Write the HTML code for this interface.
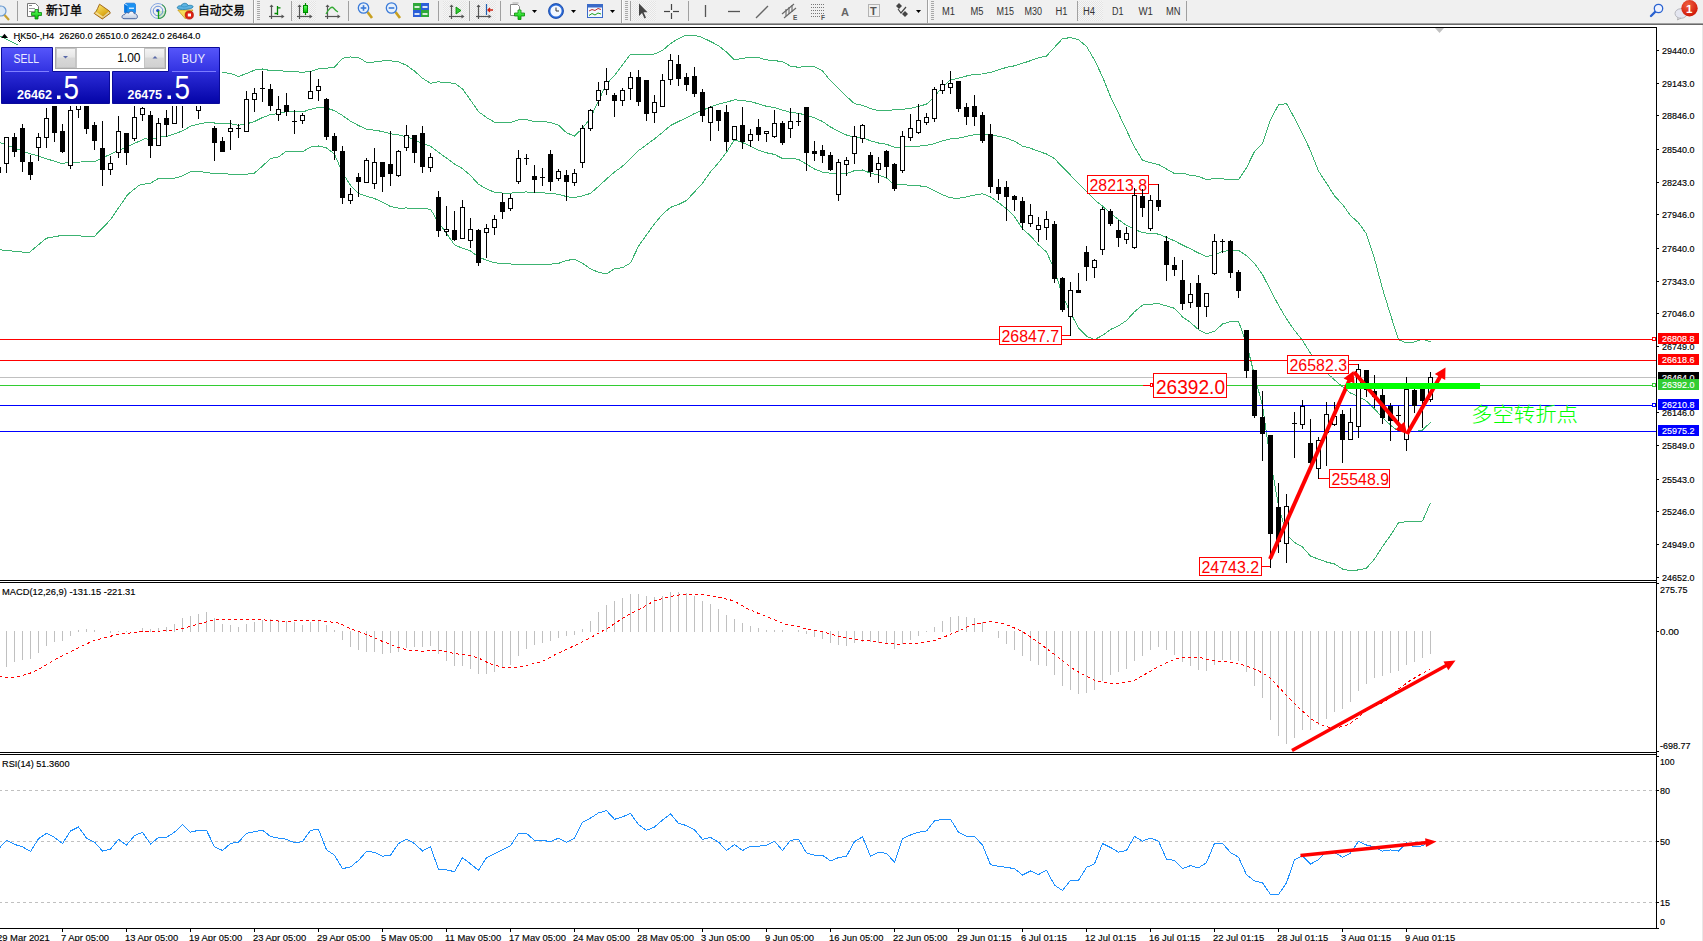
<!DOCTYPE html>
<html><head><meta charset="utf-8"><title>HK50 H4</title>
<style>
html,body{margin:0;padding:0}
body{width:1703px;height:941px;overflow:hidden;position:relative;background:#fff;font-family:"Liberation Sans", Arial, sans-serif}
</style></head><body>
<svg width="1703" height="941" viewBox="0 0 1703 941" style="position:absolute;left:0;top:0">
<g shape-rendering="crispEdges" stroke="#000" stroke-width="1">
<line x1="0" y1="27.5" x2="1657" y2="27.5"/>
<line x1="1656.5" y1="27" x2="1656.5" y2="929"/>
<line x1="0" y1="580.5" x2="1657" y2="580.5"/>
<line x1="0" y1="582.5" x2="1657" y2="582.5"/>
<line x1="0" y1="752.5" x2="1657" y2="752.5"/>
<line x1="0" y1="754.5" x2="1657" y2="754.5"/>
<line x1="0" y1="928.5" x2="1657" y2="928.5"/>
</g>
<polyline points="0.0,36.0 17.0,44.6 28.0,52.0 100.0,60.0 150.5,96.3 158.5,96.0 166.5,94.9 174.5,89.6 182.5,86.0 190.5,80.7 198.5,76.9 206.5,72.3 214.5,72.3 222.5,72.3 230.5,73.5 238.5,76.4 246.5,73.6 254.5,70.1 262.5,69.0 270.5,70.6 278.5,70.1 286.5,71.8 294.5,71.8 302.5,72.2 310.5,71.5 318.5,68.9 326.5,68.2 334.5,67.1 342.5,58.3 350.5,57.0 358.5,57.5 366.5,62.3 374.5,62.0 382.5,60.9 390.5,60.9 398.5,61.7 406.5,65.4 414.5,71.0 422.5,78.3 430.5,83.2 438.5,81.8 446.5,82.9 454.5,83.1 462.5,88.9 470.5,100.1 478.5,111.7 486.5,117.5 494.5,122.1 502.5,122.4 510.5,122.5 518.5,119.9 526.5,119.6 534.5,121.5 542.5,121.6 550.5,122.4 558.5,125.2 566.5,132.7 574.5,136.1 582.5,128.3 590.5,117.9 598.5,100.6 606.5,84.1 614.5,75.4 622.5,64.7 630.5,54.3 638.5,54.9 646.5,54.8 654.5,54.0 662.5,50.5 670.5,43.6 678.5,38.5 686.5,35.1 694.5,35.1 702.5,37.6 710.5,41.5 718.5,45.6 726.5,52.1 734.5,59.9 742.5,58.4 750.5,57.2 758.5,57.6 766.5,59.9 774.5,60.6 782.5,61.7 790.5,66.1 798.5,67.3 806.5,66.2 814.5,66.6 822.5,71.0 830.5,80.8 838.5,88.4 846.5,96.4 854.5,103.7 862.5,105.3 870.5,108.5 878.5,110.8 886.5,110.6 894.5,109.8 902.5,109.3 910.5,108.5 918.5,106.4 926.5,104.2 934.5,96.5 942.5,86.9 950.5,79.9 958.5,78.2 966.5,76.0 974.5,74.1 982.5,74.0 990.5,72.4 998.5,69.9 1006.5,67.4 1014.5,65.8 1022.5,63.3 1030.5,60.7 1038.5,57.8 1046.5,56.0 1054.5,47.3 1062.5,38.7 1070.5,37.6 1078.5,39.8 1086.5,46.4 1094.5,60.0 1102.5,76.8 1110.5,96.7 1118.5,113.3 1126.5,130.3 1134.5,147.0 1142.5,160.3 1150.5,162.6 1158.5,164.5 1166.5,169.0 1174.5,173.6 1182.5,173.1 1190.5,175.4 1198.5,176.3 1206.5,179.8 1214.5,178.3 1222.5,178.9 1230.5,179.5 1238.5,179.7 1246.5,167.8 1254.5,151.4 1262.5,143.4 1270.5,119.6 1278.5,104.9 1286.5,103.5 1294.5,118.2 1302.5,133.6 1310.5,150.8 1318.5,171.0 1326.5,183.2 1334.5,195.9 1342.5,204.5 1350.5,215.5 1358.5,222.7 1366.5,234.0 1374.5,258.7 1382.5,288.7 1390.5,314.8 1398.5,339.8 1406.5,342.9 1414.5,341.9 1422.5,339.2 1430.5,341.9" fill="none" stroke="#3cb371" stroke-width="1" shape-rendering="crispEdges"/>
<polyline points="0.0,142.5 26.0,152.3 61.0,163.3 95.7,161.0 116.0,151.7 145.0,138.7 150.5,139.7 158.5,137.2 166.5,136.6 174.5,133.9 182.5,130.9 190.5,126.2 198.5,124.1 206.5,122.5 214.5,123.0 222.5,123.0 230.5,123.8 238.5,125.3 246.5,123.9 254.5,121.5 262.5,117.5 270.5,114.6 278.5,113.5 286.5,111.5 294.5,111.7 302.5,112.0 310.5,109.3 318.5,107.5 326.5,108.0 334.5,110.7 342.5,115.5 350.5,121.2 358.5,125.5 366.5,129.2 374.5,130.2 382.5,131.5 390.5,133.8 398.5,134.9 406.5,136.7 414.5,139.7 422.5,143.6 430.5,146.2 438.5,152.2 446.5,158.1 454.5,164.0 462.5,168.6 470.5,175.5 478.5,184.3 486.5,188.9 494.5,192.3 502.5,193.1 510.5,193.2 518.5,192.1 526.5,192.0 534.5,192.8 542.5,192.9 550.5,193.3 558.5,194.3 566.5,196.6 574.5,197.7 582.5,195.8 590.5,193.4 598.5,186.4 606.5,179.0 614.5,172.1 622.5,166.2 630.5,158.6 638.5,150.6 646.5,144.8 654.5,138.9 662.5,132.4 670.5,125.5 678.5,121.5 686.5,117.8 694.5,113.5 702.5,110.4 710.5,106.7 718.5,104.2 726.5,102.2 734.5,99.8 742.5,100.5 750.5,101.7 758.5,103.8 766.5,106.3 774.5,107.5 782.5,110.1 790.5,112.3 798.5,113.3 806.5,115.2 814.5,117.8 822.5,121.5 830.5,127.0 838.5,131.2 846.5,135.0 854.5,137.2 862.5,137.7 870.5,140.8 878.5,143.0 886.5,144.2 894.5,147.3 902.5,147.1 910.5,146.8 918.5,146.1 926.5,145.4 934.5,143.7 942.5,140.8 950.5,138.9 958.5,138.2 966.5,136.4 974.5,134.6 982.5,133.8 990.5,134.7 998.5,136.2 1006.5,138.1 1014.5,141.2 1022.5,146.1 1030.5,148.2 1038.5,151.3 1046.5,154.0 1054.5,158.5 1062.5,167.2 1070.5,175.2 1078.5,183.8 1086.5,191.3 1094.5,199.8 1102.5,206.1 1110.5,213.1 1118.5,219.6 1126.5,225.4 1134.5,229.3 1142.5,232.7 1150.5,233.4 1158.5,234.1 1166.5,237.4 1174.5,240.9 1182.5,245.0 1190.5,248.9 1198.5,253.0 1206.5,256.7 1214.5,254.8 1222.5,251.4 1230.5,250.6 1238.5,250.4 1246.5,255.7 1254.5,263.4 1262.5,274.6 1270.5,290.1 1278.5,305.3 1286.5,318.9 1294.5,330.4 1302.5,340.3 1310.5,353.4 1318.5,365.1 1326.5,372.6 1334.5,379.9 1342.5,386.8 1350.5,393.1 1358.5,396.3 1366.5,401.1 1374.5,408.9 1382.5,417.6 1390.5,425.1 1398.5,431.3 1406.5,432.2 1414.5,431.8 1422.5,430.1 1430.5,422.3" fill="none" stroke="#3cb371" stroke-width="1" shape-rendering="crispEdges"/>
<polyline points="0.0,249.8 29.0,252.7 46.4,238.2 62.4,235.3 94.3,236.5 110.2,220.0 127.6,194.7 139.3,185.1 150.5,183.1 158.5,178.5 166.5,178.3 174.5,178.3 182.5,175.8 190.5,171.7 198.5,171.3 206.5,172.6 214.5,173.6 222.5,173.6 230.5,174.2 238.5,174.3 246.5,174.2 254.5,173.0 262.5,166.0 270.5,158.6 278.5,156.9 286.5,151.1 294.5,151.5 302.5,151.8 310.5,147.1 318.5,146.0 326.5,147.9 334.5,154.2 342.5,172.7 350.5,185.4 358.5,193.5 366.5,196.2 374.5,198.5 382.5,202.1 390.5,206.6 398.5,208.1 406.5,208.0 414.5,208.3 422.5,208.8 430.5,209.1 438.5,222.6 446.5,233.3 454.5,244.9 462.5,248.3 470.5,250.9 478.5,256.9 486.5,260.3 494.5,262.6 502.5,263.7 510.5,264.0 518.5,264.3 526.5,264.4 534.5,264.2 542.5,264.2 550.5,264.2 558.5,263.4 566.5,260.5 574.5,259.2 582.5,263.2 590.5,268.9 598.5,272.2 606.5,273.9 614.5,268.7 622.5,267.7 630.5,262.9 638.5,246.2 646.5,234.8 654.5,223.9 662.5,214.3 670.5,207.4 678.5,204.5 686.5,200.5 694.5,191.9 702.5,183.2 710.5,171.9 718.5,162.7 726.5,152.2 734.5,139.7 742.5,142.5 750.5,146.1 758.5,150.1 766.5,152.8 774.5,154.4 782.5,158.5 790.5,158.5 798.5,159.3 806.5,164.3 814.5,169.0 822.5,172.1 830.5,173.2 838.5,174.0 846.5,173.6 854.5,170.6 862.5,170.0 870.5,173.2 878.5,175.2 886.5,177.9 894.5,184.9 902.5,184.9 910.5,185.1 918.5,185.8 926.5,186.6 934.5,190.9 942.5,194.7 950.5,197.9 958.5,198.3 966.5,196.9 974.5,195.1 982.5,193.7 990.5,197.0 998.5,202.6 1006.5,208.7 1014.5,216.6 1022.5,228.8 1030.5,235.8 1038.5,244.9 1046.5,252.0 1054.5,269.7 1062.5,295.6 1070.5,312.9 1078.5,327.9 1086.5,336.2 1094.5,339.7 1102.5,335.4 1110.5,329.5 1118.5,325.8 1126.5,320.5 1134.5,311.7 1142.5,305.1 1150.5,304.2 1158.5,303.6 1166.5,305.9 1174.5,308.3 1182.5,316.9 1190.5,322.5 1198.5,329.7 1206.5,333.6 1214.5,331.4 1222.5,324.0 1230.5,321.6 1238.5,321.2 1246.5,343.5 1254.5,375.4 1262.5,405.8 1270.5,460.6 1278.5,505.7 1286.5,534.4 1294.5,542.5 1302.5,547.0 1310.5,556.0 1318.5,559.2 1326.5,562.0 1334.5,564.0 1342.5,569.0 1350.5,570.8 1358.5,569.9 1366.5,568.2 1374.5,559.0 1382.5,546.6 1390.5,535.3 1398.5,522.8 1406.5,521.6 1414.5,521.6 1422.5,521.0 1430.5,502.7" fill="none" stroke="#3cb371" stroke-width="1" shape-rendering="crispEdges"/>
<g shape-rendering="crispEdges" stroke-width="1">
<line x1="0" y1="339.5" x2="1652" y2="339.5" stroke="#ff0000"/>
<line x1="0" y1="360.5" x2="1656" y2="360.5" stroke="#ff0000"/>
<line x1="0" y1="377.5" x2="1656" y2="377.5" stroke="#c0c0c0"/>
<line x1="0" y1="385.5" x2="1652" y2="385.5" stroke="#32cd32"/>
<line x1="0" y1="405.5" x2="1652" y2="405.5" stroke="#0000ff"/>
<line x1="0" y1="431.5" x2="1656" y2="431.5" stroke="#0000ff"/>
<rect x="1652.5" y="337.5" width="3" height="3" fill="#fff" stroke="#ff0000"/>
<rect x="1652.5" y="383.5" width="3" height="3" fill="#fff" stroke="#32cd32"/>
<rect x="1652.5" y="403.5" width="3" height="3" fill="#fff" stroke="#0000ff"/>
</g>
<rect x="999.5" y="326.5" width="62" height="18" fill="#fff" stroke="#ff0000" shape-rendering="crispEdges"/><text x="1001.5" y="341.5" font-family='"Liberation Sans", Arial, sans-serif' font-size="16" fill="#ff0000" textLength="57.5" lengthAdjust="spacingAndGlyphs">26847.7</text>
<line x1="1061" y1="335.5" x2="1070" y2="335.5" stroke="#ff0000" shape-rendering="crispEdges"/>
<rect x="1087.5" y="175.5" width="61" height="18" fill="#fff" stroke="#ff0000" shape-rendering="crispEdges"/><text x="1089.5" y="190.5" font-family='"Liberation Sans", Arial, sans-serif' font-size="16" fill="#ff0000" textLength="57.5" lengthAdjust="spacingAndGlyphs">28213.8</text>
<line x1="1148" y1="184.5" x2="1158" y2="184.5" stroke="#ff0000" shape-rendering="crispEdges"/>
<rect x="1199.5" y="557.5" width="62" height="18" fill="#fff" stroke="#ff0000" shape-rendering="crispEdges"/><text x="1201.5" y="572.5" font-family='"Liberation Sans", Arial, sans-serif' font-size="16" fill="#ff0000" textLength="57.5" lengthAdjust="spacingAndGlyphs">24743.2</text>
<line x1="1261" y1="566.5" x2="1270" y2="566.5" stroke="#ff0000" shape-rendering="crispEdges"/>
<rect x="1287.5" y="355.5" width="61" height="18" fill="#fff" stroke="#ff0000" shape-rendering="crispEdges"/><text x="1289.5" y="370.5" font-family='"Liberation Sans", Arial, sans-serif' font-size="16" fill="#ff0000" textLength="57.5" lengthAdjust="spacingAndGlyphs">26582.3</text>
<line x1="1348" y1="364.5" x2="1358" y2="364.5" stroke="#ff0000" shape-rendering="crispEdges"/>
<rect x="1329.5" y="469.5" width="60" height="18" fill="#fff" stroke="#ff0000" shape-rendering="crispEdges"/><text x="1331.5" y="484.5" font-family='"Liberation Sans", Arial, sans-serif' font-size="16" fill="#ff0000" textLength="57.5" lengthAdjust="spacingAndGlyphs">25548.9</text>
<line x1="1318" y1="478.5" x2="1329" y2="478.5" stroke="#ff0000" shape-rendering="crispEdges"/>
<line x1="1143" y1="385.5" x2="1150" y2="385.5" stroke="#ff0000" shape-rendering="crispEdges"/>
<rect x="1150.5" y="383.5" width="2" height="3" fill="#fff" stroke="#ff0000" shape-rendering="crispEdges"/>
<rect x="1153.5" y="373.5" width="73" height="24" fill="#fff" stroke="#ff0000" shape-rendering="crispEdges"/>
<text x="1156" y="394" font-family='"Liberation Sans", Arial, sans-serif' font-size="20" fill="#ff0000" textLength="69" lengthAdjust="spacingAndGlyphs">26392.0</text>
<g shape-rendering="crispEdges">
<line x1="-1.5" y1="160" x2="-1.5" y2="177" stroke="#000"/>
<rect x="-4" y="167" width="5" height="6" fill="#000"/>
<line x1="6.5" y1="137" x2="6.5" y2="173" stroke="#000"/>
<rect x="4.5" y="137.5" width="4" height="26" fill="#fff" stroke="#000"/>
<line x1="14.5" y1="133" x2="14.5" y2="157" stroke="#000"/>
<rect x="12" y="137" width="5" height="15" fill="#000"/>
<line x1="22.5" y1="124" x2="22.5" y2="172" stroke="#000"/>
<rect x="20" y="128" width="5" height="34" fill="#000"/>
<line x1="30.5" y1="155" x2="30.5" y2="180" stroke="#000"/>
<rect x="28" y="162" width="5" height="13" fill="#000"/>
<line x1="38.5" y1="133" x2="38.5" y2="161" stroke="#000"/>
<rect x="36.5" y="137.5" width="4" height="10" fill="#fff" stroke="#000"/>
<line x1="46.5" y1="108" x2="46.5" y2="148" stroke="#000"/>
<rect x="44.5" y="118.5" width="4" height="19" fill="#fff" stroke="#000"/>
<line x1="54.5" y1="90" x2="54.5" y2="142" stroke="#000"/>
<rect x="52" y="95" width="5" height="38" fill="#000"/>
<line x1="62.5" y1="124" x2="62.5" y2="153" stroke="#000"/>
<rect x="60" y="131" width="5" height="21" fill="#000"/>
<line x1="70.5" y1="100" x2="70.5" y2="169" stroke="#000"/>
<rect x="68.5" y="110.5" width="4" height="55" fill="#fff" stroke="#000"/>
<line x1="78.5" y1="95" x2="78.5" y2="118" stroke="#000"/>
<rect x="76.5" y="98.5" width="4" height="11" fill="#fff" stroke="#000"/>
<line x1="86.5" y1="90" x2="86.5" y2="134" stroke="#000"/>
<rect x="84" y="95" width="5" height="34" fill="#000"/>
<line x1="94.5" y1="122" x2="94.5" y2="150" stroke="#000"/>
<rect x="92" y="125" width="5" height="16" fill="#000"/>
<line x1="102.5" y1="121" x2="102.5" y2="186" stroke="#000"/>
<rect x="100" y="148" width="5" height="22" fill="#000"/>
<line x1="110.5" y1="156" x2="110.5" y2="175" stroke="#000"/>
<rect x="108.5" y="163.5" width="4" height="6" fill="#fff" stroke="#000"/>
<line x1="118.5" y1="116" x2="118.5" y2="158" stroke="#000"/>
<rect x="116.5" y="131.5" width="4" height="21" fill="#fff" stroke="#000"/>
<line x1="126.5" y1="133" x2="126.5" y2="165" stroke="#000"/>
<rect x="124" y="133" width="5" height="20" fill="#000"/>
<line x1="134.5" y1="100" x2="134.5" y2="141" stroke="#000"/>
<rect x="132.5" y="117.5" width="4" height="21" fill="#fff" stroke="#000"/>
<line x1="142.5" y1="107" x2="142.5" y2="121" stroke="#000"/>
<rect x="140.5" y="108.5" width="4" height="6" fill="#fff" stroke="#000"/>
<line x1="150.5" y1="111" x2="150.5" y2="158" stroke="#000"/>
<rect x="148" y="115" width="5" height="31" fill="#000"/>
<line x1="158.5" y1="118" x2="158.5" y2="146" stroke="#000"/>
<rect x="156.5" y="123.5" width="4" height="22" fill="#fff" stroke="#000"/>
<line x1="166.5" y1="110" x2="166.5" y2="137" stroke="#000"/>
<rect x="164" y="118" width="5" height="7" fill="#000"/>
<line x1="174.5" y1="95" x2="174.5" y2="124" stroke="#000"/>
<rect x="172.5" y="98.5" width="4" height="25" fill="#fff" stroke="#000"/>
<line x1="182.5" y1="75" x2="182.5" y2="128" stroke="#000"/>
<rect x="180" y="80" width="5" height="21" fill="#000"/>
<line x1="190.5" y1="75" x2="190.5" y2="101" stroke="#000"/>
<rect x="188.5" y="80.5" width="4" height="15" fill="#fff" stroke="#000"/>
<line x1="198.5" y1="90" x2="198.5" y2="119" stroke="#000"/>
<rect x="196.5" y="95.5" width="4" height="15" fill="#fff" stroke="#000"/>
<line x1="206.5" y1="80" x2="206.5" y2="105" stroke="#000"/>
<rect x="204.5" y="85.5" width="4" height="15" fill="#fff" stroke="#000"/>
<line x1="214.5" y1="126" x2="214.5" y2="161" stroke="#000"/>
<rect x="212" y="128" width="5" height="15" fill="#000"/>
<line x1="222.5" y1="137" x2="222.5" y2="152" stroke="#000"/>
<rect x="220" y="141" width="5" height="11" fill="#000"/>
<line x1="230.5" y1="120" x2="230.5" y2="150" stroke="#000"/>
<rect x="228.5" y="128.5" width="4" height="3" fill="#fff" stroke="#000"/>
<line x1="238.5" y1="124" x2="238.5" y2="138" stroke="#000"/>
<line x1="236" y1="128.5" x2="241" y2="128.5" stroke="#000"/>
<line x1="246.5" y1="91" x2="246.5" y2="132" stroke="#000"/>
<rect x="244.5" y="99.5" width="4" height="32" fill="#fff" stroke="#000"/>
<line x1="254.5" y1="88" x2="254.5" y2="112" stroke="#000"/>
<rect x="252.5" y="93.5" width="4" height="6" fill="#fff" stroke="#000"/>
<line x1="262.5" y1="71" x2="262.5" y2="102" stroke="#000"/>
<line x1="260" y1="88.5" x2="265" y2="88.5" stroke="#000"/>
<line x1="270.5" y1="84" x2="270.5" y2="111" stroke="#000"/>
<rect x="268" y="89" width="5" height="17" fill="#000"/>
<line x1="278.5" y1="96" x2="278.5" y2="121" stroke="#000"/>
<rect x="276.5" y="109.5" width="4" height="5" fill="#fff" stroke="#000"/>
<line x1="286.5" y1="93" x2="286.5" y2="116" stroke="#000"/>
<rect x="284" y="105" width="5" height="7" fill="#000"/>
<line x1="294.5" y1="110" x2="294.5" y2="134" stroke="#000"/>
<line x1="292" y1="121.5" x2="297" y2="121.5" stroke="#000"/>
<line x1="302.5" y1="113" x2="302.5" y2="124" stroke="#000"/>
<rect x="300.5" y="115.5" width="4" height="5" fill="#fff" stroke="#000"/>
<line x1="310.5" y1="71" x2="310.5" y2="99" stroke="#000"/>
<rect x="308.5" y="91.5" width="4" height="7" fill="#fff" stroke="#000"/>
<line x1="318.5" y1="79" x2="318.5" y2="101" stroke="#000"/>
<rect x="316.5" y="86.5" width="4" height="4" fill="#fff" stroke="#000"/>
<line x1="326.5" y1="98" x2="326.5" y2="140" stroke="#000"/>
<rect x="324" y="99" width="5" height="38" fill="#000"/>
<line x1="334.5" y1="133" x2="334.5" y2="160" stroke="#000"/>
<rect x="332" y="136" width="5" height="15" fill="#000"/>
<line x1="342.5" y1="146" x2="342.5" y2="204" stroke="#000"/>
<rect x="340" y="151" width="5" height="47" fill="#000"/>
<line x1="350.5" y1="188" x2="350.5" y2="204" stroke="#000"/>
<rect x="348.5" y="194.5" width="4" height="6" fill="#fff" stroke="#000"/>
<line x1="358.5" y1="173" x2="358.5" y2="197" stroke="#000"/>
<rect x="356" y="177" width="5" height="5" fill="#000"/>
<line x1="366.5" y1="158" x2="366.5" y2="183" stroke="#000"/>
<rect x="364.5" y="160.5" width="4" height="22" fill="#fff" stroke="#000"/>
<line x1="374.5" y1="148" x2="374.5" y2="189" stroke="#000"/>
<rect x="372.5" y="162.5" width="4" height="21" fill="#fff" stroke="#000"/>
<line x1="382.5" y1="162" x2="382.5" y2="192" stroke="#000"/>
<rect x="380" y="162" width="5" height="15" fill="#000"/>
<line x1="390.5" y1="131" x2="390.5" y2="186" stroke="#000"/>
<rect x="388" y="164" width="5" height="10" fill="#000"/>
<line x1="398.5" y1="150" x2="398.5" y2="177" stroke="#000"/>
<rect x="396.5" y="151.5" width="4" height="24" fill="#fff" stroke="#000"/>
<line x1="406.5" y1="125" x2="406.5" y2="151" stroke="#000"/>
<rect x="404.5" y="135.5" width="4" height="12" fill="#fff" stroke="#000"/>
<line x1="414.5" y1="135" x2="414.5" y2="163" stroke="#000"/>
<rect x="412" y="135" width="5" height="18" fill="#000"/>
<line x1="422.5" y1="126" x2="422.5" y2="173" stroke="#000"/>
<rect x="420" y="133" width="5" height="34" fill="#000"/>
<line x1="430.5" y1="153" x2="430.5" y2="172" stroke="#000"/>
<rect x="428.5" y="157.5" width="4" height="10" fill="#fff" stroke="#000"/>
<line x1="438.5" y1="191" x2="438.5" y2="237" stroke="#000"/>
<rect x="436" y="197" width="5" height="34" fill="#000"/>
<line x1="446.5" y1="206" x2="446.5" y2="236" stroke="#000"/>
<rect x="444.5" y="229.5" width="4" height="2" fill="#fff" stroke="#000"/>
<line x1="454.5" y1="211" x2="454.5" y2="241" stroke="#000"/>
<rect x="452" y="230" width="5" height="10" fill="#000"/>
<line x1="462.5" y1="200" x2="462.5" y2="239" stroke="#000"/>
<rect x="460.5" y="207.5" width="4" height="31" fill="#fff" stroke="#000"/>
<line x1="470.5" y1="218" x2="470.5" y2="248" stroke="#000"/>
<rect x="468.5" y="229.5" width="4" height="11" fill="#fff" stroke="#000"/>
<line x1="478.5" y1="229" x2="478.5" y2="266" stroke="#000"/>
<rect x="476" y="230" width="5" height="33" fill="#000"/>
<line x1="486.5" y1="224" x2="486.5" y2="258" stroke="#000"/>
<rect x="484.5" y="228.5" width="4" height="4" fill="#fff" stroke="#000"/>
<line x1="494.5" y1="215" x2="494.5" y2="235" stroke="#000"/>
<rect x="492.5" y="219.5" width="4" height="8" fill="#fff" stroke="#000"/>
<line x1="502.5" y1="193" x2="502.5" y2="219" stroke="#000"/>
<rect x="500" y="202" width="5" height="10" fill="#000"/>
<line x1="510.5" y1="194" x2="510.5" y2="211" stroke="#000"/>
<rect x="508.5" y="198.5" width="4" height="10" fill="#fff" stroke="#000"/>
<line x1="518.5" y1="150" x2="518.5" y2="184" stroke="#000"/>
<rect x="516.5" y="158.5" width="4" height="23" fill="#fff" stroke="#000"/>
<line x1="526.5" y1="154" x2="526.5" y2="165" stroke="#000"/>
<line x1="524" y1="158.5" x2="529" y2="158.5" stroke="#000"/>
<line x1="534.5" y1="165" x2="534.5" y2="193" stroke="#000"/>
<rect x="532" y="176" width="5" height="4" fill="#000"/>
<line x1="542.5" y1="168" x2="542.5" y2="186" stroke="#000"/>
<line x1="540" y1="177.5" x2="545" y2="177.5" stroke="#000"/>
<line x1="550.5" y1="150" x2="550.5" y2="191" stroke="#000"/>
<rect x="548" y="154" width="5" height="28" fill="#000"/>
<line x1="558.5" y1="169" x2="558.5" y2="181" stroke="#000"/>
<rect x="556.5" y="171.5" width="4" height="7" fill="#fff" stroke="#000"/>
<line x1="566.5" y1="170" x2="566.5" y2="201" stroke="#000"/>
<rect x="564" y="175" width="5" height="7" fill="#000"/>
<line x1="574.5" y1="169" x2="574.5" y2="186" stroke="#000"/>
<rect x="572.5" y="173.5" width="4" height="9" fill="#fff" stroke="#000"/>
<line x1="582.5" y1="125" x2="582.5" y2="168" stroke="#000"/>
<rect x="580.5" y="128.5" width="4" height="34" fill="#fff" stroke="#000"/>
<line x1="590.5" y1="109" x2="590.5" y2="131" stroke="#000"/>
<rect x="588.5" y="110.5" width="4" height="18" fill="#fff" stroke="#000"/>
<line x1="598.5" y1="82" x2="598.5" y2="106" stroke="#000"/>
<rect x="596.5" y="90.5" width="4" height="10" fill="#fff" stroke="#000"/>
<line x1="606.5" y1="68" x2="606.5" y2="95" stroke="#000"/>
<rect x="604.5" y="81.5" width="4" height="8" fill="#fff" stroke="#000"/>
<line x1="614.5" y1="93" x2="614.5" y2="117" stroke="#000"/>
<rect x="612" y="95" width="5" height="6" fill="#000"/>
<line x1="622.5" y1="88" x2="622.5" y2="106" stroke="#000"/>
<rect x="620.5" y="90.5" width="4" height="10" fill="#fff" stroke="#000"/>
<line x1="630.5" y1="72" x2="630.5" y2="100" stroke="#000"/>
<rect x="628.5" y="77.5" width="4" height="11" fill="#fff" stroke="#000"/>
<line x1="638.5" y1="70" x2="638.5" y2="106" stroke="#000"/>
<rect x="636" y="77" width="5" height="25" fill="#000"/>
<line x1="646.5" y1="80" x2="646.5" y2="121" stroke="#000"/>
<rect x="644" y="80" width="5" height="34" fill="#000"/>
<line x1="654.5" y1="95" x2="654.5" y2="123" stroke="#000"/>
<rect x="652.5" y="102.5" width="4" height="10" fill="#fff" stroke="#000"/>
<line x1="662.5" y1="74" x2="662.5" y2="107" stroke="#000"/>
<rect x="660.5" y="80.5" width="4" height="26" fill="#fff" stroke="#000"/>
<line x1="670.5" y1="54" x2="670.5" y2="85" stroke="#000"/>
<rect x="668.5" y="60.5" width="4" height="19" fill="#fff" stroke="#000"/>
<line x1="678.5" y1="55" x2="678.5" y2="86" stroke="#000"/>
<rect x="676" y="64" width="5" height="15" fill="#000"/>
<line x1="686.5" y1="73" x2="686.5" y2="91" stroke="#000"/>
<rect x="684" y="77" width="5" height="8" fill="#000"/>
<line x1="694.5" y1="67" x2="694.5" y2="97" stroke="#000"/>
<rect x="692" y="76" width="5" height="18" fill="#000"/>
<line x1="702.5" y1="89" x2="702.5" y2="122" stroke="#000"/>
<rect x="700" y="92" width="5" height="24" fill="#000"/>
<line x1="710.5" y1="106" x2="710.5" y2="141" stroke="#000"/>
<rect x="708.5" y="107.5" width="4" height="15" fill="#fff" stroke="#000"/>
<line x1="718.5" y1="110" x2="718.5" y2="131" stroke="#000"/>
<rect x="716" y="110" width="5" height="11" fill="#000"/>
<line x1="726.5" y1="105" x2="726.5" y2="151" stroke="#000"/>
<rect x="724" y="112" width="5" height="30" fill="#000"/>
<line x1="734.5" y1="126" x2="734.5" y2="140" stroke="#000"/>
<rect x="732.5" y="126.5" width="4" height="13" fill="#fff" stroke="#000"/>
<line x1="742.5" y1="107" x2="742.5" y2="149" stroke="#000"/>
<rect x="740" y="125" width="5" height="17" fill="#000"/>
<line x1="750.5" y1="129" x2="750.5" y2="147" stroke="#000"/>
<rect x="748.5" y="134.5" width="4" height="6" fill="#fff" stroke="#000"/>
<line x1="758.5" y1="119" x2="758.5" y2="141" stroke="#000"/>
<rect x="756" y="127" width="5" height="8" fill="#000"/>
<line x1="766.5" y1="131" x2="766.5" y2="142" stroke="#000"/>
<rect x="764.5" y="131.5" width="4" height="2" fill="#fff" stroke="#000"/>
<line x1="774.5" y1="110" x2="774.5" y2="138" stroke="#000"/>
<rect x="772.5" y="123.5" width="4" height="13" fill="#fff" stroke="#000"/>
<line x1="782.5" y1="121" x2="782.5" y2="145" stroke="#000"/>
<rect x="780" y="123" width="5" height="20" fill="#000"/>
<line x1="790.5" y1="108" x2="790.5" y2="138" stroke="#000"/>
<rect x="788.5" y="121.5" width="4" height="7" fill="#fff" stroke="#000"/>
<line x1="798.5" y1="113" x2="798.5" y2="126" stroke="#000"/>
<line x1="796" y1="121.5" x2="801" y2="121.5" stroke="#000"/>
<line x1="806.5" y1="107" x2="806.5" y2="171" stroke="#000"/>
<rect x="804" y="107" width="5" height="46" fill="#000"/>
<line x1="814.5" y1="141" x2="814.5" y2="161" stroke="#000"/>
<rect x="812" y="151" width="5" height="3" fill="#000"/>
<line x1="822.5" y1="145" x2="822.5" y2="163" stroke="#000"/>
<rect x="820" y="150" width="5" height="6" fill="#000"/>
<line x1="830.5" y1="152" x2="830.5" y2="171" stroke="#000"/>
<rect x="828" y="155" width="5" height="15" fill="#000"/>
<line x1="838.5" y1="159" x2="838.5" y2="201" stroke="#000"/>
<rect x="836.5" y="162.5" width="4" height="32" fill="#fff" stroke="#000"/>
<line x1="846.5" y1="157" x2="846.5" y2="176" stroke="#000"/>
<rect x="844.5" y="160.5" width="4" height="4" fill="#fff" stroke="#000"/>
<line x1="854.5" y1="126" x2="854.5" y2="164" stroke="#000"/>
<rect x="852.5" y="136.5" width="4" height="17" fill="#fff" stroke="#000"/>
<line x1="862.5" y1="124" x2="862.5" y2="143" stroke="#000"/>
<rect x="860.5" y="125.5" width="4" height="13" fill="#fff" stroke="#000"/>
<line x1="870.5" y1="152" x2="870.5" y2="177" stroke="#000"/>
<rect x="868" y="155" width="5" height="17" fill="#000"/>
<line x1="878.5" y1="157" x2="878.5" y2="183" stroke="#000"/>
<rect x="876.5" y="163.5" width="4" height="6" fill="#fff" stroke="#000"/>
<line x1="886.5" y1="150" x2="886.5" y2="178" stroke="#000"/>
<rect x="884" y="151" width="5" height="16" fill="#000"/>
<line x1="894.5" y1="163" x2="894.5" y2="191" stroke="#000"/>
<rect x="892" y="164" width="5" height="25" fill="#000"/>
<line x1="902.5" y1="131" x2="902.5" y2="173" stroke="#000"/>
<rect x="900.5" y="136.5" width="4" height="34" fill="#fff" stroke="#000"/>
<line x1="910.5" y1="114" x2="910.5" y2="141" stroke="#000"/>
<rect x="908.5" y="128.5" width="4" height="9" fill="#fff" stroke="#000"/>
<line x1="918.5" y1="104" x2="918.5" y2="134" stroke="#000"/>
<rect x="916.5" y="120.5" width="4" height="12" fill="#fff" stroke="#000"/>
<line x1="926.5" y1="113" x2="926.5" y2="125" stroke="#000"/>
<rect x="924.5" y="117.5" width="4" height="5" fill="#fff" stroke="#000"/>
<line x1="934.5" y1="87" x2="934.5" y2="122" stroke="#000"/>
<rect x="932.5" y="89.5" width="4" height="29" fill="#fff" stroke="#000"/>
<line x1="942.5" y1="80" x2="942.5" y2="94" stroke="#000"/>
<rect x="940.5" y="84.5" width="4" height="6" fill="#fff" stroke="#000"/>
<line x1="950.5" y1="71" x2="950.5" y2="94" stroke="#000"/>
<rect x="948.5" y="83.5" width="4" height="4" fill="#fff" stroke="#000"/>
<line x1="958.5" y1="81" x2="958.5" y2="112" stroke="#000"/>
<rect x="956" y="81" width="5" height="28" fill="#000"/>
<line x1="966.5" y1="103" x2="966.5" y2="125" stroke="#000"/>
<rect x="964" y="107" width="5" height="10" fill="#000"/>
<line x1="974.5" y1="95" x2="974.5" y2="126" stroke="#000"/>
<rect x="972" y="106" width="5" height="11" fill="#000"/>
<line x1="982.5" y1="112" x2="982.5" y2="143" stroke="#000"/>
<rect x="980" y="115" width="5" height="26" fill="#000"/>
<line x1="990.5" y1="124" x2="990.5" y2="193" stroke="#000"/>
<rect x="988" y="134" width="5" height="53" fill="#000"/>
<line x1="998.5" y1="179" x2="998.5" y2="200" stroke="#000"/>
<rect x="996" y="187" width="5" height="7" fill="#000"/>
<line x1="1006.5" y1="181" x2="1006.5" y2="221" stroke="#000"/>
<rect x="1004" y="187" width="5" height="10" fill="#000"/>
<line x1="1014.5" y1="195" x2="1014.5" y2="211" stroke="#000"/>
<rect x="1012" y="196" width="5" height="4" fill="#000"/>
<line x1="1022.5" y1="197" x2="1022.5" y2="230" stroke="#000"/>
<rect x="1020" y="201" width="5" height="22" fill="#000"/>
<line x1="1030.5" y1="204" x2="1030.5" y2="227" stroke="#000"/>
<rect x="1028.5" y="215.5" width="4" height="8" fill="#fff" stroke="#000"/>
<line x1="1038.5" y1="217" x2="1038.5" y2="242" stroke="#000"/>
<rect x="1036.5" y="225.5" width="4" height="4" fill="#fff" stroke="#000"/>
<line x1="1046.5" y1="211" x2="1046.5" y2="240" stroke="#000"/>
<rect x="1044.5" y="219.5" width="4" height="8" fill="#fff" stroke="#000"/>
<line x1="1054.5" y1="221" x2="1054.5" y2="283" stroke="#000"/>
<rect x="1052" y="224" width="5" height="55" fill="#000"/>
<line x1="1062.5" y1="277" x2="1062.5" y2="312" stroke="#000"/>
<rect x="1060" y="278" width="5" height="32" fill="#000"/>
<line x1="1070.5" y1="282" x2="1070.5" y2="336" stroke="#000"/>
<rect x="1068.5" y="290.5" width="4" height="26" fill="#fff" stroke="#000"/>
<line x1="1078.5" y1="273" x2="1078.5" y2="293" stroke="#000"/>
<rect x="1076" y="290" width="5" height="3" fill="#000"/>
<line x1="1086.5" y1="246" x2="1086.5" y2="281" stroke="#000"/>
<rect x="1084" y="252" width="5" height="15" fill="#000"/>
<line x1="1094.5" y1="259" x2="1094.5" y2="278" stroke="#000"/>
<rect x="1092.5" y="260.5" width="4" height="7" fill="#fff" stroke="#000"/>
<line x1="1102.5" y1="207" x2="1102.5" y2="255" stroke="#000"/>
<rect x="1100.5" y="209.5" width="4" height="40" fill="#fff" stroke="#000"/>
<line x1="1110.5" y1="209" x2="1110.5" y2="226" stroke="#000"/>
<rect x="1108" y="211" width="5" height="13" fill="#000"/>
<line x1="1118.5" y1="220" x2="1118.5" y2="247" stroke="#000"/>
<rect x="1116" y="230" width="5" height="8" fill="#000"/>
<line x1="1126.5" y1="227" x2="1126.5" y2="244" stroke="#000"/>
<rect x="1124.5" y="233.5" width="4" height="6" fill="#fff" stroke="#000"/>
<line x1="1134.5" y1="188" x2="1134.5" y2="249" stroke="#000"/>
<rect x="1132.5" y="195.5" width="4" height="52" fill="#fff" stroke="#000"/>
<line x1="1142.5" y1="189" x2="1142.5" y2="217" stroke="#000"/>
<rect x="1140" y="196" width="5" height="12" fill="#000"/>
<line x1="1150.5" y1="195" x2="1150.5" y2="231" stroke="#000"/>
<rect x="1148.5" y="200.5" width="4" height="28" fill="#fff" stroke="#000"/>
<line x1="1158.5" y1="184" x2="1158.5" y2="211" stroke="#000"/>
<rect x="1156" y="200" width="5" height="7" fill="#000"/>
<line x1="1166.5" y1="236" x2="1166.5" y2="281" stroke="#000"/>
<rect x="1164" y="241" width="5" height="24" fill="#000"/>
<line x1="1174.5" y1="257" x2="1174.5" y2="276" stroke="#000"/>
<rect x="1172" y="265" width="5" height="5" fill="#000"/>
<line x1="1182.5" y1="260" x2="1182.5" y2="310" stroke="#000"/>
<rect x="1180" y="280" width="5" height="24" fill="#000"/>
<line x1="1190.5" y1="283" x2="1190.5" y2="308" stroke="#000"/>
<rect x="1188.5" y="294.5" width="4" height="8" fill="#fff" stroke="#000"/>
<line x1="1198.5" y1="275" x2="1198.5" y2="329" stroke="#000"/>
<rect x="1196" y="283" width="5" height="24" fill="#000"/>
<line x1="1206.5" y1="293" x2="1206.5" y2="317" stroke="#000"/>
<rect x="1204.5" y="293.5" width="4" height="13" fill="#fff" stroke="#000"/>
<line x1="1214.5" y1="234" x2="1214.5" y2="275" stroke="#000"/>
<rect x="1212.5" y="241.5" width="4" height="32" fill="#fff" stroke="#000"/>
<line x1="1222.5" y1="239" x2="1222.5" y2="253" stroke="#000"/>
<line x1="1220" y1="241.5" x2="1225" y2="241.5" stroke="#000"/>
<line x1="1230.5" y1="240" x2="1230.5" y2="278" stroke="#000"/>
<rect x="1228" y="241" width="5" height="32" fill="#000"/>
<line x1="1238.5" y1="270" x2="1238.5" y2="298" stroke="#000"/>
<rect x="1236" y="272" width="5" height="19" fill="#000"/>
<line x1="1246.5" y1="330" x2="1246.5" y2="378" stroke="#000"/>
<rect x="1244" y="330" width="5" height="41" fill="#000"/>
<line x1="1254.5" y1="370" x2="1254.5" y2="418" stroke="#000"/>
<rect x="1252" y="370" width="5" height="46" fill="#000"/>
<line x1="1262.5" y1="391" x2="1262.5" y2="461" stroke="#000"/>
<rect x="1260" y="417" width="5" height="17" fill="#000"/>
<line x1="1270.5" y1="435" x2="1270.5" y2="568" stroke="#000"/>
<rect x="1268" y="435" width="5" height="99" fill="#000"/>
<line x1="1278.5" y1="483" x2="1278.5" y2="553" stroke="#000"/>
<rect x="1276" y="507" width="5" height="35" fill="#000"/>
<line x1="1286.5" y1="494" x2="1286.5" y2="563" stroke="#000"/>
<rect x="1284.5" y="506.5" width="4" height="37" fill="#fff" stroke="#000"/>
<line x1="1294.5" y1="412" x2="1294.5" y2="458" stroke="#000"/>
<line x1="1292" y1="423.5" x2="1297" y2="423.5" stroke="#000"/>
<line x1="1302.5" y1="400" x2="1302.5" y2="429" stroke="#000"/>
<rect x="1300.5" y="406.5" width="4" height="18" fill="#fff" stroke="#000"/>
<line x1="1310.5" y1="419" x2="1310.5" y2="466" stroke="#000"/>
<rect x="1308" y="443" width="5" height="20" fill="#000"/>
<line x1="1318.5" y1="437" x2="1318.5" y2="479" stroke="#000"/>
<rect x="1316.5" y="440.5" width="4" height="28" fill="#fff" stroke="#000"/>
<line x1="1326.5" y1="402" x2="1326.5" y2="466" stroke="#000"/>
<rect x="1324.5" y="414.5" width="4" height="18" fill="#fff" stroke="#000"/>
<line x1="1334.5" y1="402" x2="1334.5" y2="426" stroke="#000"/>
<rect x="1332.5" y="416.5" width="4" height="8" fill="#fff" stroke="#000"/>
<line x1="1342.5" y1="410" x2="1342.5" y2="463" stroke="#000"/>
<rect x="1340" y="414" width="5" height="26" fill="#000"/>
<line x1="1350.5" y1="408" x2="1350.5" y2="440" stroke="#000"/>
<rect x="1348.5" y="422.5" width="4" height="17" fill="#fff" stroke="#000"/>
<line x1="1358.5" y1="364" x2="1358.5" y2="438" stroke="#000"/>
<rect x="1356.5" y="369.5" width="4" height="57" fill="#fff" stroke="#000"/>
<line x1="1366.5" y1="370" x2="1366.5" y2="397" stroke="#000"/>
<rect x="1364" y="370" width="5" height="20" fill="#000"/>
<line x1="1374.5" y1="375" x2="1374.5" y2="408" stroke="#000"/>
<rect x="1372" y="391" width="5" height="6" fill="#000"/>
<line x1="1382.5" y1="389" x2="1382.5" y2="424" stroke="#000"/>
<rect x="1380" y="395" width="5" height="23" fill="#000"/>
<line x1="1390.5" y1="403" x2="1390.5" y2="441" stroke="#000"/>
<rect x="1388" y="406" width="5" height="15" fill="#000"/>
<line x1="1398.5" y1="406" x2="1398.5" y2="431" stroke="#000"/>
<line x1="1396" y1="415.5" x2="1401" y2="415.5" stroke="#000"/>
<line x1="1406.5" y1="377" x2="1406.5" y2="451" stroke="#000"/>
<rect x="1404.5" y="389.5" width="4" height="50" fill="#fff" stroke="#000"/>
<line x1="1414.5" y1="389" x2="1414.5" y2="413" stroke="#000"/>
<rect x="1412" y="390" width="5" height="16" fill="#000"/>
<line x1="1422.5" y1="389" x2="1422.5" y2="428" stroke="#000"/>
<rect x="1420" y="389" width="5" height="12" fill="#000"/>
<line x1="1430.5" y1="372" x2="1430.5" y2="402" stroke="#000"/>
<rect x="1428.5" y="377.5" width="4" height="22" fill="#fff" stroke="#000"/>
</g>
<g shape-rendering="crispEdges" stroke="#c0c0c0">
<line x1="6.5" y1="631" x2="6.5" y2="667"/>
<line x1="14.5" y1="631" x2="14.5" y2="662"/>
<line x1="22.5" y1="631" x2="22.5" y2="660"/>
<line x1="30.5" y1="631" x2="30.5" y2="659"/>
<line x1="38.5" y1="631" x2="38.5" y2="653"/>
<line x1="46.5" y1="631" x2="46.5" y2="646"/>
<line x1="54.5" y1="631" x2="54.5" y2="642"/>
<line x1="62.5" y1="631" x2="62.5" y2="641"/>
<line x1="70.5" y1="631" x2="70.5" y2="636"/>
<line x1="78.5" y1="630" x2="78.5" y2="632"/>
<line x1="86.5" y1="629" x2="86.5" y2="632"/>
<line x1="94.5" y1="630" x2="94.5" y2="632"/>
<line x1="102.5" y1="631" x2="102.5" y2="631"/>
<line x1="110.5" y1="631" x2="110.5" y2="633"/>
<line x1="118.5" y1="631" x2="118.5" y2="632"/>
<line x1="126.5" y1="631" x2="126.5" y2="632"/>
<line x1="134.5" y1="631" x2="134.5" y2="631"/>
<line x1="142.5" y1="628" x2="142.5" y2="632"/>
<line x1="150.5" y1="629" x2="150.5" y2="632"/>
<line x1="158.5" y1="628" x2="158.5" y2="632"/>
<line x1="166.5" y1="627" x2="166.5" y2="632"/>
<line x1="174.5" y1="624" x2="174.5" y2="632"/>
<line x1="182.5" y1="618" x2="182.5" y2="632"/>
<line x1="190.5" y1="616" x2="190.5" y2="632"/>
<line x1="198.5" y1="614" x2="198.5" y2="632"/>
<line x1="206.5" y1="612" x2="206.5" y2="632"/>
<line x1="214.5" y1="618" x2="214.5" y2="632"/>
<line x1="222.5" y1="624" x2="222.5" y2="632"/>
<line x1="230.5" y1="625" x2="230.5" y2="632"/>
<line x1="238.5" y1="627" x2="238.5" y2="632"/>
<line x1="246.5" y1="624" x2="246.5" y2="632"/>
<line x1="254.5" y1="622" x2="254.5" y2="632"/>
<line x1="262.5" y1="620" x2="262.5" y2="632"/>
<line x1="270.5" y1="619" x2="270.5" y2="632"/>
<line x1="278.5" y1="620" x2="278.5" y2="632"/>
<line x1="286.5" y1="621" x2="286.5" y2="632"/>
<line x1="294.5" y1="622" x2="294.5" y2="632"/>
<line x1="302.5" y1="625" x2="302.5" y2="632"/>
<line x1="310.5" y1="622" x2="310.5" y2="632"/>
<line x1="318.5" y1="620" x2="318.5" y2="632"/>
<line x1="326.5" y1="625" x2="326.5" y2="632"/>
<line x1="334.5" y1="630" x2="334.5" y2="632"/>
<line x1="342.5" y1="631" x2="342.5" y2="640"/>
<line x1="350.5" y1="631" x2="350.5" y2="647"/>
<line x1="358.5" y1="631" x2="358.5" y2="650"/>
<line x1="366.5" y1="631" x2="366.5" y2="652"/>
<line x1="374.5" y1="631" x2="374.5" y2="652"/>
<line x1="382.5" y1="631" x2="382.5" y2="654"/>
<line x1="390.5" y1="631" x2="390.5" y2="653"/>
<line x1="398.5" y1="631" x2="398.5" y2="652"/>
<line x1="406.5" y1="631" x2="406.5" y2="648"/>
<line x1="414.5" y1="631" x2="414.5" y2="647"/>
<line x1="422.5" y1="631" x2="422.5" y2="647"/>
<line x1="430.5" y1="631" x2="430.5" y2="646"/>
<line x1="438.5" y1="631" x2="438.5" y2="654"/>
<line x1="446.5" y1="631" x2="446.5" y2="661"/>
<line x1="454.5" y1="631" x2="454.5" y2="666"/>
<line x1="462.5" y1="631" x2="462.5" y2="666"/>
<line x1="470.5" y1="631" x2="470.5" y2="669"/>
<line x1="478.5" y1="631" x2="478.5" y2="674"/>
<line x1="486.5" y1="631" x2="486.5" y2="674"/>
<line x1="494.5" y1="631" x2="494.5" y2="672"/>
<line x1="502.5" y1="631" x2="502.5" y2="668"/>
<line x1="510.5" y1="631" x2="510.5" y2="665"/>
<line x1="518.5" y1="631" x2="518.5" y2="656"/>
<line x1="526.5" y1="631" x2="526.5" y2="649"/>
<line x1="534.5" y1="631" x2="534.5" y2="645"/>
<line x1="542.5" y1="631" x2="542.5" y2="643"/>
<line x1="550.5" y1="631" x2="550.5" y2="641"/>
<line x1="558.5" y1="631" x2="558.5" y2="638"/>
<line x1="566.5" y1="631" x2="566.5" y2="636"/>
<line x1="574.5" y1="631" x2="574.5" y2="635"/>
<line x1="582.5" y1="629" x2="582.5" y2="632"/>
<line x1="590.5" y1="621" x2="590.5" y2="632"/>
<line x1="598.5" y1="612" x2="598.5" y2="632"/>
<line x1="606.5" y1="605" x2="606.5" y2="632"/>
<line x1="614.5" y1="601" x2="614.5" y2="632"/>
<line x1="622.5" y1="598" x2="622.5" y2="632"/>
<line x1="630.5" y1="594" x2="630.5" y2="632"/>
<line x1="638.5" y1="594" x2="638.5" y2="632"/>
<line x1="646.5" y1="596" x2="646.5" y2="632"/>
<line x1="654.5" y1="597" x2="654.5" y2="632"/>
<line x1="662.5" y1="596" x2="662.5" y2="632"/>
<line x1="670.5" y1="592" x2="670.5" y2="632"/>
<line x1="678.5" y1="592" x2="678.5" y2="632"/>
<line x1="686.5" y1="593" x2="686.5" y2="632"/>
<line x1="694.5" y1="596" x2="694.5" y2="632"/>
<line x1="702.5" y1="601" x2="702.5" y2="632"/>
<line x1="710.5" y1="604" x2="710.5" y2="632"/>
<line x1="718.5" y1="609" x2="718.5" y2="632"/>
<line x1="726.5" y1="615" x2="726.5" y2="632"/>
<line x1="734.5" y1="619" x2="734.5" y2="632"/>
<line x1="742.5" y1="623" x2="742.5" y2="632"/>
<line x1="750.5" y1="626" x2="750.5" y2="632"/>
<line x1="758.5" y1="628" x2="758.5" y2="632"/>
<line x1="766.5" y1="630" x2="766.5" y2="632"/>
<line x1="774.5" y1="630" x2="774.5" y2="632"/>
<line x1="782.5" y1="630" x2="782.5" y2="632"/>
<line x1="790.5" y1="631" x2="790.5" y2="631"/>
<line x1="798.5" y1="630" x2="798.5" y2="632"/>
<line x1="806.5" y1="631" x2="806.5" y2="634"/>
<line x1="814.5" y1="631" x2="814.5" y2="637"/>
<line x1="822.5" y1="631" x2="822.5" y2="639"/>
<line x1="830.5" y1="631" x2="830.5" y2="643"/>
<line x1="838.5" y1="631" x2="838.5" y2="645"/>
<line x1="846.5" y1="631" x2="846.5" y2="646"/>
<line x1="854.5" y1="631" x2="854.5" y2="643"/>
<line x1="862.5" y1="631" x2="862.5" y2="642"/>
<line x1="870.5" y1="631" x2="870.5" y2="642"/>
<line x1="878.5" y1="631" x2="878.5" y2="643"/>
<line x1="886.5" y1="631" x2="886.5" y2="644"/>
<line x1="894.5" y1="631" x2="894.5" y2="649"/>
<line x1="902.5" y1="631" x2="902.5" y2="644"/>
<line x1="910.5" y1="631" x2="910.5" y2="640"/>
<line x1="918.5" y1="631" x2="918.5" y2="636"/>
<line x1="926.5" y1="631" x2="926.5" y2="632"/>
<line x1="934.5" y1="627" x2="934.5" y2="632"/>
<line x1="942.5" y1="621" x2="942.5" y2="632"/>
<line x1="950.5" y1="617" x2="950.5" y2="632"/>
<line x1="958.5" y1="616" x2="958.5" y2="632"/>
<line x1="966.5" y1="617" x2="966.5" y2="632"/>
<line x1="974.5" y1="618" x2="974.5" y2="632"/>
<line x1="982.5" y1="622" x2="982.5" y2="632"/>
<line x1="990.5" y1="631" x2="990.5" y2="631"/>
<line x1="998.5" y1="631" x2="998.5" y2="638"/>
<line x1="1006.5" y1="631" x2="1006.5" y2="644"/>
<line x1="1014.5" y1="631" x2="1014.5" y2="650"/>
<line x1="1022.5" y1="631" x2="1022.5" y2="656"/>
<line x1="1030.5" y1="631" x2="1030.5" y2="661"/>
<line x1="1038.5" y1="631" x2="1038.5" y2="665"/>
<line x1="1046.5" y1="631" x2="1046.5" y2="666"/>
<line x1="1054.5" y1="631" x2="1054.5" y2="675"/>
<line x1="1062.5" y1="631" x2="1062.5" y2="686"/>
<line x1="1070.5" y1="631" x2="1070.5" y2="690"/>
<line x1="1078.5" y1="631" x2="1078.5" y2="694"/>
<line x1="1086.5" y1="631" x2="1086.5" y2="693"/>
<line x1="1094.5" y1="631" x2="1094.5" y2="690"/>
<line x1="1102.5" y1="631" x2="1102.5" y2="681"/>
<line x1="1110.5" y1="631" x2="1110.5" y2="675"/>
<line x1="1118.5" y1="631" x2="1118.5" y2="672"/>
<line x1="1126.5" y1="631" x2="1126.5" y2="669"/>
<line x1="1134.5" y1="631" x2="1134.5" y2="661"/>
<line x1="1142.5" y1="631" x2="1142.5" y2="656"/>
<line x1="1150.5" y1="631" x2="1150.5" y2="650"/>
<line x1="1158.5" y1="631" x2="1158.5" y2="647"/>
<line x1="1166.5" y1="631" x2="1166.5" y2="650"/>
<line x1="1174.5" y1="631" x2="1174.5" y2="655"/>
<line x1="1182.5" y1="631" x2="1182.5" y2="662"/>
<line x1="1190.5" y1="631" x2="1190.5" y2="666"/>
<line x1="1198.5" y1="631" x2="1198.5" y2="670"/>
<line x1="1206.5" y1="631" x2="1206.5" y2="671"/>
<line x1="1214.5" y1="631" x2="1214.5" y2="665"/>
<line x1="1222.5" y1="631" x2="1222.5" y2="660"/>
<line x1="1230.5" y1="631" x2="1230.5" y2="660"/>
<line x1="1238.5" y1="631" x2="1238.5" y2="661"/>
<line x1="1246.5" y1="631" x2="1246.5" y2="672"/>
<line x1="1254.5" y1="631" x2="1254.5" y2="686"/>
<line x1="1262.5" y1="631" x2="1262.5" y2="698"/>
<line x1="1270.5" y1="631" x2="1270.5" y2="720"/>
<line x1="1278.5" y1="631" x2="1278.5" y2="736"/>
<line x1="1286.5" y1="631" x2="1286.5" y2="744"/>
<line x1="1294.5" y1="631" x2="1294.5" y2="738"/>
<line x1="1302.5" y1="631" x2="1302.5" y2="730"/>
<line x1="1310.5" y1="631" x2="1310.5" y2="730"/>
<line x1="1318.5" y1="631" x2="1318.5" y2="725"/>
<line x1="1326.5" y1="631" x2="1326.5" y2="719"/>
<line x1="1334.5" y1="631" x2="1334.5" y2="712"/>
<line x1="1342.5" y1="631" x2="1342.5" y2="709"/>
<line x1="1350.5" y1="631" x2="1350.5" y2="702"/>
<line x1="1358.5" y1="631" x2="1358.5" y2="691"/>
<line x1="1366.5" y1="631" x2="1366.5" y2="684"/>
<line x1="1374.5" y1="631" x2="1374.5" y2="678"/>
<line x1="1382.5" y1="631" x2="1382.5" y2="676"/>
<line x1="1390.5" y1="631" x2="1390.5" y2="673"/>
<line x1="1398.5" y1="631" x2="1398.5" y2="671"/>
<line x1="1406.5" y1="631" x2="1406.5" y2="665"/>
<line x1="1414.5" y1="631" x2="1414.5" y2="662"/>
<line x1="1422.5" y1="631" x2="1422.5" y2="658"/>
<line x1="1430.5" y1="631" x2="1430.5" y2="654"/>
</g>
<polyline points="0.0,676.5 6.0,677.5 12.0,677.5 17.5,676.5 23.0,675.4 29.5,673.5 36.0,670.6 42.0,667.5 47.0,664.6 58.7,657.5 70.5,651.6 82.2,645.8 94.0,640.6 105.7,637.5 117.4,634.5 140.9,631.7 173.8,630.5 187.9,627.0 202.0,623.0 216.1,619.5 258.4,619.5 281.9,621.3 319.4,620.4 338.2,623.0 352.3,629.3 366.4,634.5 380.5,640.6 400.0,648.1 411.7,650.5 423.5,651.2 430.5,650.0 439.9,650.5 454.0,653.5 470.5,655.6 479.9,658.7 489.3,663.4 503.3,667.6 517.4,667.6 531.5,664.1 540.9,662.2 555.0,654.7 569.1,648.1 583.2,641.5 599.6,632.8 611.4,625.8 625.5,616.4 639.6,609.4 653.7,601.1 670.1,596.4 681.9,594.6 703.0,594.6 714.7,596.4 733.5,600.7 747.6,608.7 761.7,614.8 775.8,620.4 785.2,624.2 800.0,627.0 809.4,629.8 823.5,632.1 837.6,635.9 854.0,639.2 870.5,641.1 882.2,642.9 898.6,644.1 917.4,643.4 933.9,640.6 945.6,636.4 959.7,630.5 971.5,625.1 987.9,621.6 999.6,622.7 1011.4,626.5 1023.1,632.1 1034.9,639.9 1046.6,648.6 1058.4,657.5 1070.1,666.9 1081.9,674.0 1093.6,679.8 1105.3,682.9 1117.1,683.8 1133.5,681.0 1147.6,672.8 1161.7,665.0 1175.8,658.7 1187.5,657.0 1200.0,657.5 1211.5,660.4 1230.6,662.3 1245.9,665.7 1257.4,670.3 1268.9,676.6 1280.4,689.0 1291.8,700.9 1303.3,712.0 1314.8,721.6 1326.3,726.9 1337.7,727.7 1349.2,724.4 1360.7,715.5 1368.4,708.2 1383.7,702.4 1399.0,688.7 1410.4,680.4 1425.7,671.4 1430.5,669.5" fill="none" stroke="#ff0000" stroke-width="1" stroke-dasharray="3,3" stroke-dashoffset="1" shape-rendering="crispEdges"/>
<g shape-rendering="crispEdges" stroke="#c0c0c0" stroke-dasharray="3,3">
<line x1="-1" y1="790.5" x2="1656" y2="790.5"/>
<line x1="-1" y1="841.5" x2="1656" y2="841.5"/>
<line x1="-1" y1="902.5" x2="1656" y2="902.5"/>
</g>
<polyline points="-1.5,849.0 6.5,840.4 14.5,844.4 22.5,846.8 30.5,851.5 38.5,838.8 46.5,833.4 54.5,837.4 62.5,843.5 70.5,831.0 78.5,827.0 86.5,838.1 94.5,842.1 102.5,851.0 110.5,849.1 118.5,839.3 126.5,845.1 134.5,835.7 142.5,832.2 150.5,844.0 158.5,837.4 166.5,837.4 174.5,832.2 182.5,824.7 190.5,832.2 198.5,830.3 206.5,830.3 214.5,846.8 222.5,850.5 230.5,843.5 238.5,842.1 246.5,833.4 254.5,831.7 262.5,830.3 270.5,836.4 278.5,838.1 286.5,839.3 294.5,842.8 302.5,841.6 310.5,830.3 318.5,829.4 326.5,849.8 334.5,855.2 342.5,868.6 350.5,867.0 358.5,860.4 366.5,851.5 374.5,852.2 382.5,856.2 390.5,855.2 398.5,843.5 406.5,839.3 414.5,843.5 422.5,851.0 430.5,846.8 438.5,869.3 446.5,869.8 454.5,871.7 462.5,857.6 470.5,863.9 478.5,870.3 486.5,857.6 494.5,853.8 502.5,849.8 510.5,845.8 518.5,833.4 526.5,833.4 534.5,840.4 542.5,840.4 550.5,841.6 558.5,838.1 566.5,842.1 574.5,838.1 582.5,822.3 590.5,818.1 598.5,812.9 606.5,810.6 614.5,819.3 622.5,816.9 630.5,813.4 638.5,824.7 646.5,830.3 654.5,827.0 662.5,820.0 670.5,813.9 678.5,823.3 686.5,825.6 694.5,829.9 702.5,839.3 710.5,837.4 718.5,842.1 726.5,850.5 734.5,844.4 742.5,850.5 750.5,846.3 758.5,846.3 766.5,845.1 774.5,841.1 782.5,850.5 790.5,840.4 798.5,839.3 806.5,852.9 814.5,855.2 822.5,855.2 830.5,860.9 838.5,857.6 846.5,856.2 854.5,841.6 862.5,836.9 870.5,856.2 878.5,852.2 886.5,853.3 894.5,862.3 902.5,838.8 910.5,835.0 918.5,832.2 926.5,831.0 934.5,820.9 942.5,819.3 950.5,819.3 958.5,832.2 966.5,836.4 974.5,836.4 982.5,845.1 990.5,864.6 998.5,866.3 1006.5,867.4 1014.5,868.6 1022.5,875.0 1030.5,871.0 1038.5,874.5 1046.5,870.3 1054.5,885.1 1062.5,890.5 1070.5,880.4 1078.5,880.4 1086.5,867.4 1094.5,863.9 1102.5,843.5 1110.5,847.5 1118.5,852.2 1126.5,850.5 1134.5,836.4 1142.5,841.1 1150.5,838.1 1158.5,841.1 1166.5,859.2 1174.5,860.4 1182.5,868.6 1190.5,865.6 1198.5,867.9 1206.5,862.6 1214.5,843.4 1222.5,843.4 1230.5,852.5 1238.5,857.2 1246.5,874.8 1254.5,880.9 1262.5,882.9 1270.5,894.5 1278.5,894.5 1286.5,882.9 1294.5,859.6 1302.5,856.0 1310.5,864.1 1318.5,859.6 1326.5,851.5 1334.5,852.5 1342.5,857.2 1350.5,853.1 1358.5,841.3 1366.5,845.0 1374.5,847.0 1382.5,851.1 1390.5,849.9 1398.5,851.1 1406.5,843.0 1414.5,847.0 1422.5,845.8 1430.5,840.5" fill="none" stroke="#1e90ff" stroke-width="1" shape-rendering="crispEdges"/>
<line x1="1270" y1="559" x2="1349.8" y2="379.2" stroke="#ff0000" stroke-width="4"/><polygon points="1353.5,371 1354.5,383.5 1343.6,378.6" fill="#ff0000"/>
<line x1="1354" y1="372" x2="1401.2" y2="427.2" stroke="#ff0000" stroke-width="4"/><polygon points="1407,434 1395.3,429.5 1404.4,421.7" fill="#ff0000"/>
<line x1="1407" y1="434" x2="1441.0" y2="375.3" stroke="#ff0000" stroke-width="4"/><polygon points="1445.5,367.5 1445.2,380.0 1434.8,374.0" fill="#ff0000"/>
<line x1="1292" y1="750.5" x2="1447.6" y2="664.8" stroke="#ff0000" stroke-width="3.5"/><polygon points="1455.5,660.5 1448.3,670.2 1443.5,661.4" fill="#ff0000"/>
<line x1="1300.5" y1="855.5" x2="1427.5" y2="842.4" stroke="#ff0000" stroke-width="3.5"/><polygon points="1436.5,841.5 1426.0,847.1 1425.1,838.2" fill="#ff0000"/>
<rect x="1346" y="383" width="134" height="6" fill="#00ff00"/>
<text x="1471" y="422" font-family='"Liberation Sans", "Noto Sans CJK SC", sans-serif' font-weight="300" font-size="20" fill="#00ff00" textLength="107" lengthAdjust="spacingAndGlyphs">多空转折点</text>
<g font-family='"Liberation Sans", Arial, sans-serif' font-size="9.6" fill="#000" stroke="#000" stroke-width="0.15">
<line x1="1657" y1="50.5" x2="1659" y2="50.5" stroke="#000" stroke-width="1" shape-rendering="crispEdges"/>
<text x="1662" y="54" textLength="32.5" lengthAdjust="spacingAndGlyphs">29440.0</text>
<line x1="1657" y1="83.5" x2="1659" y2="83.5" stroke="#000" stroke-width="1" shape-rendering="crispEdges"/>
<text x="1662" y="87" textLength="32.5" lengthAdjust="spacingAndGlyphs">29143.0</text>
<line x1="1657" y1="115.5" x2="1659" y2="115.5" stroke="#000" stroke-width="1" shape-rendering="crispEdges"/>
<text x="1662" y="119" textLength="32.5" lengthAdjust="spacingAndGlyphs">28846.0</text>
<line x1="1657" y1="149.5" x2="1659" y2="149.5" stroke="#000" stroke-width="1" shape-rendering="crispEdges"/>
<text x="1662" y="153" textLength="32.5" lengthAdjust="spacingAndGlyphs">28540.0</text>
<line x1="1657" y1="182.5" x2="1659" y2="182.5" stroke="#000" stroke-width="1" shape-rendering="crispEdges"/>
<text x="1662" y="186" textLength="32.5" lengthAdjust="spacingAndGlyphs">28243.0</text>
<line x1="1657" y1="214.5" x2="1659" y2="214.5" stroke="#000" stroke-width="1" shape-rendering="crispEdges"/>
<text x="1662" y="218" textLength="32.5" lengthAdjust="spacingAndGlyphs">27946.0</text>
<line x1="1657" y1="248.5" x2="1659" y2="248.5" stroke="#000" stroke-width="1" shape-rendering="crispEdges"/>
<text x="1662" y="252" textLength="32.5" lengthAdjust="spacingAndGlyphs">27640.0</text>
<line x1="1657" y1="281.5" x2="1659" y2="281.5" stroke="#000" stroke-width="1" shape-rendering="crispEdges"/>
<text x="1662" y="285" textLength="32.5" lengthAdjust="spacingAndGlyphs">27343.0</text>
<line x1="1657" y1="313.5" x2="1659" y2="313.5" stroke="#000" stroke-width="1" shape-rendering="crispEdges"/>
<text x="1662" y="317" textLength="32.5" lengthAdjust="spacingAndGlyphs">27046.0</text>
<line x1="1657" y1="346.5" x2="1659" y2="346.5" stroke="#000" stroke-width="1" shape-rendering="crispEdges"/>
<text x="1662" y="350" textLength="32.5" lengthAdjust="spacingAndGlyphs">26749.0</text>
<line x1="1657" y1="412.5" x2="1659" y2="412.5" stroke="#000" stroke-width="1" shape-rendering="crispEdges"/>
<text x="1662" y="416" textLength="32.5" lengthAdjust="spacingAndGlyphs">26146.0</text>
<line x1="1657" y1="445.5" x2="1659" y2="445.5" stroke="#000" stroke-width="1" shape-rendering="crispEdges"/>
<text x="1662" y="449" textLength="32.5" lengthAdjust="spacingAndGlyphs">25849.0</text>
<line x1="1657" y1="479.5" x2="1659" y2="479.5" stroke="#000" stroke-width="1" shape-rendering="crispEdges"/>
<text x="1662" y="483" textLength="32.5" lengthAdjust="spacingAndGlyphs">25543.0</text>
<line x1="1657" y1="511.5" x2="1659" y2="511.5" stroke="#000" stroke-width="1" shape-rendering="crispEdges"/>
<text x="1662" y="515" textLength="32.5" lengthAdjust="spacingAndGlyphs">25246.0</text>
<line x1="1657" y1="544.5" x2="1659" y2="544.5" stroke="#000" stroke-width="1" shape-rendering="crispEdges"/>
<text x="1662" y="548" textLength="32.5" lengthAdjust="spacingAndGlyphs">24949.0</text>
<line x1="1657" y1="577.5" x2="1659" y2="577.5" stroke="#000" stroke-width="1" shape-rendering="crispEdges"/>
<text x="1662" y="581" textLength="32.5" lengthAdjust="spacingAndGlyphs">24652.0</text>
<rect x="1658" y="372" width="41" height="11" fill="#000" stroke="none"/><text x="1662" y="381" fill="#fff" stroke="#fff" stroke-width="0.15" textLength="32.5" lengthAdjust="spacingAndGlyphs">26464.0</text>
<rect x="1658" y="333" width="41" height="11" fill="#ff0000" stroke="none"/><text x="1662" y="342" fill="#fff" stroke="#fff" stroke-width="0.15" textLength="32.5" lengthAdjust="spacingAndGlyphs">26808.8</text>
<rect x="1658" y="354" width="41" height="11" fill="#ff0000" stroke="none"/><text x="1662" y="363" fill="#fff" stroke="#fff" stroke-width="0.15" textLength="32.5" lengthAdjust="spacingAndGlyphs">26618.6</text>
<rect x="1658" y="379" width="41" height="11" fill="#32cd32" stroke="none"/><text x="1662" y="388" fill="#fff" stroke="#fff" stroke-width="0.15" textLength="32.5" lengthAdjust="spacingAndGlyphs">26392.0</text>
<rect x="1658" y="399" width="41" height="11" fill="#0000ff" stroke="none"/><text x="1662" y="408" fill="#fff" stroke="#fff" stroke-width="0.15" textLength="32.5" lengthAdjust="spacingAndGlyphs">26210.8</text>
<rect x="1658" y="425" width="41" height="11" fill="#0000ff" stroke="none"/><text x="1662" y="434" fill="#fff" stroke="#fff" stroke-width="0.15" textLength="32.5" lengthAdjust="spacingAndGlyphs">25975.2</text>
<line x1="1657" y1="583.5" x2="1659" y2="583.5" stroke="#000" stroke-width="1" shape-rendering="crispEdges"/>
<text x="1660" y="593" textLength="27.5" lengthAdjust="spacingAndGlyphs">275.75</text>
<line x1="1657" y1="631.5" x2="1659" y2="631.5" stroke="#000" stroke-width="1" shape-rendering="crispEdges"/>
<text x="1660" y="635" textLength="19" lengthAdjust="spacingAndGlyphs">0.00</text>
<line x1="1657" y1="751.5" x2="1659" y2="751.5" stroke="#000" stroke-width="1" shape-rendering="crispEdges"/>
<text x="1660" y="749" textLength="30.5" lengthAdjust="spacingAndGlyphs">-698.77</text>
<line x1="1657" y1="756.5" x2="1659" y2="756.5" stroke="#000" stroke-width="1" shape-rendering="crispEdges"/>
<text x="1660" y="765" textLength="14.5" lengthAdjust="spacingAndGlyphs">100</text>
<line x1="1657" y1="790.5" x2="1659" y2="790.5" stroke="#000" stroke-width="1" shape-rendering="crispEdges"/>
<text x="1660" y="794" textLength="10" lengthAdjust="spacingAndGlyphs">80</text>
<line x1="1657" y1="841.5" x2="1659" y2="841.5" stroke="#000" stroke-width="1" shape-rendering="crispEdges"/>
<text x="1660" y="845" textLength="10" lengthAdjust="spacingAndGlyphs">50</text>
<line x1="1657" y1="902.5" x2="1659" y2="902.5" stroke="#000" stroke-width="1" shape-rendering="crispEdges"/>
<text x="1660" y="906" textLength="10" lengthAdjust="spacingAndGlyphs">15</text>
<line x1="1657" y1="928.5" x2="1659" y2="928.5" stroke="#000" stroke-width="1" shape-rendering="crispEdges"/>
<text x="1660" y="925" textLength="5" lengthAdjust="spacingAndGlyphs">0</text>
<text x="-3" y="941" textLength="52.8" lengthAdjust="spacingAndGlyphs">29 Mar 2021</text>
<line x1="62.5" y1="929" x2="62.5" y2="932" stroke="#000" stroke-width="1" shape-rendering="crispEdges"/>
<text x="61" y="941" textLength="48.1" lengthAdjust="spacingAndGlyphs">7 Apr 05:00</text>
<line x1="126.5" y1="929" x2="126.5" y2="932" stroke="#000" stroke-width="1" shape-rendering="crispEdges"/>
<text x="125" y="941" textLength="53.3" lengthAdjust="spacingAndGlyphs">13 Apr 05:00</text>
<line x1="190.5" y1="929" x2="190.5" y2="932" stroke="#000" stroke-width="1" shape-rendering="crispEdges"/>
<text x="189" y="941" textLength="53.3" lengthAdjust="spacingAndGlyphs">19 Apr 05:00</text>
<line x1="254.5" y1="929" x2="254.5" y2="932" stroke="#000" stroke-width="1" shape-rendering="crispEdges"/>
<text x="253" y="941" textLength="53.3" lengthAdjust="spacingAndGlyphs">23 Apr 05:00</text>
<line x1="318.5" y1="929" x2="318.5" y2="932" stroke="#000" stroke-width="1" shape-rendering="crispEdges"/>
<text x="317" y="941" textLength="53.3" lengthAdjust="spacingAndGlyphs">29 Apr 05:00</text>
<line x1="382.5" y1="929" x2="382.5" y2="932" stroke="#000" stroke-width="1" shape-rendering="crispEdges"/>
<text x="381" y="941" textLength="51.7" lengthAdjust="spacingAndGlyphs">5 May 05:00</text>
<line x1="446.5" y1="929" x2="446.5" y2="932" stroke="#000" stroke-width="1" shape-rendering="crispEdges"/>
<text x="445" y="941" textLength="56.3" lengthAdjust="spacingAndGlyphs">11 May 05:00</text>
<line x1="510.5" y1="929" x2="510.5" y2="932" stroke="#000" stroke-width="1" shape-rendering="crispEdges"/>
<text x="509" y="941" textLength="57.0" lengthAdjust="spacingAndGlyphs">17 May 05:00</text>
<line x1="574.5" y1="929" x2="574.5" y2="932" stroke="#000" stroke-width="1" shape-rendering="crispEdges"/>
<text x="573" y="941" textLength="57.0" lengthAdjust="spacingAndGlyphs">24 May 05:00</text>
<line x1="638.5" y1="929" x2="638.5" y2="932" stroke="#000" stroke-width="1" shape-rendering="crispEdges"/>
<text x="637" y="941" textLength="57.0" lengthAdjust="spacingAndGlyphs">28 May 05:00</text>
<line x1="702.5" y1="929" x2="702.5" y2="932" stroke="#000" stroke-width="1" shape-rendering="crispEdges"/>
<text x="701" y="941" textLength="49.1" lengthAdjust="spacingAndGlyphs">3 Jun 05:00</text>
<line x1="766.5" y1="929" x2="766.5" y2="932" stroke="#000" stroke-width="1" shape-rendering="crispEdges"/>
<text x="765" y="941" textLength="49.1" lengthAdjust="spacingAndGlyphs">9 Jun 05:00</text>
<line x1="830.5" y1="929" x2="830.5" y2="932" stroke="#000" stroke-width="1" shape-rendering="crispEdges"/>
<text x="829" y="941" textLength="54.4" lengthAdjust="spacingAndGlyphs">16 Jun 05:00</text>
<line x1="894.5" y1="929" x2="894.5" y2="932" stroke="#000" stroke-width="1" shape-rendering="crispEdges"/>
<text x="893" y="941" textLength="54.4" lengthAdjust="spacingAndGlyphs">22 Jun 05:00</text>
<line x1="958.5" y1="929" x2="958.5" y2="932" stroke="#000" stroke-width="1" shape-rendering="crispEdges"/>
<text x="957" y="941" textLength="54.4" lengthAdjust="spacingAndGlyphs">29 Jun 01:15</text>
<line x1="1022.5" y1="929" x2="1022.5" y2="932" stroke="#000" stroke-width="1" shape-rendering="crispEdges"/>
<text x="1021" y="941" textLength="46.0" lengthAdjust="spacingAndGlyphs">6 Jul 01:15</text>
<line x1="1086.5" y1="929" x2="1086.5" y2="932" stroke="#000" stroke-width="1" shape-rendering="crispEdges"/>
<text x="1085" y="941" textLength="51.2" lengthAdjust="spacingAndGlyphs">12 Jul 01:15</text>
<line x1="1150.5" y1="929" x2="1150.5" y2="932" stroke="#000" stroke-width="1" shape-rendering="crispEdges"/>
<text x="1149" y="941" textLength="51.2" lengthAdjust="spacingAndGlyphs">16 Jul 01:15</text>
<line x1="1214.5" y1="929" x2="1214.5" y2="932" stroke="#000" stroke-width="1" shape-rendering="crispEdges"/>
<text x="1213" y="941" textLength="51.2" lengthAdjust="spacingAndGlyphs">22 Jul 01:15</text>
<line x1="1278.5" y1="929" x2="1278.5" y2="932" stroke="#000" stroke-width="1" shape-rendering="crispEdges"/>
<text x="1277" y="941" textLength="51.2" lengthAdjust="spacingAndGlyphs">28 Jul 01:15</text>
<line x1="1342.5" y1="929" x2="1342.5" y2="932" stroke="#000" stroke-width="1" shape-rendering="crispEdges"/>
<text x="1341" y="941" textLength="50.2" lengthAdjust="spacingAndGlyphs">3 Aug 01:15</text>
<line x1="1406.5" y1="929" x2="1406.5" y2="932" stroke="#000" stroke-width="1" shape-rendering="crispEdges"/>
<text x="1405" y="941" textLength="50.2" lengthAdjust="spacingAndGlyphs">9 Aug 01:15</text>
<text x="13.5" y="39" textLength="187" lengthAdjust="spacingAndGlyphs" xml:space="preserve">HK50-,H4  26260.0 26510.0 26242.0 26464.0</text>
<text x="2" y="595" textLength="133.5" lengthAdjust="spacingAndGlyphs">MACD(12,26,9) -131.15 -221.31</text>
<text x="2" y="767" textLength="67.5" lengthAdjust="spacingAndGlyphs">RSI(14) 51.3600</text>
</g>
<polygon points="1,38 4.5,33.8 8,38" fill="#000"/>
<g fill="#000"><rect x="19" y="39" width="1" height="1"/><rect x="18" y="40" width="1" height="1"/><rect x="20" y="40" width="1" height="1"/><rect x="19" y="41" width="1" height="1"/></g>
<polygon points="1435,28 1444,28 1439.5,33" fill="#c0c0c0"/>
</svg>
<div style="position:absolute;left:0;top:0;width:1703px;height:23px;background:#f0f0f0"></div>
<div style="position:absolute;left:0;top:23px;width:1703px;height:1px;background:#a0a0a0"></div>
<div style="position:absolute;left:0;top:24px;width:1703px;height:1px;background:#696969"></div>
<div style="position:absolute;left:1702px;top:25px;width:1px;height:916px;background:#e8e8e8"></div>
<svg width="1703" height="23" viewBox="0 0 1703 23" style="position:absolute;left:0;top:0"><defs><pattern id="chk" width="2" height="2" patternUnits="userSpaceOnUse"><rect width="2" height="2" fill="#f6f6f6"/><rect width="1" height="1" fill="#e4e4e4"/><rect x="1" y="1" width="1" height="1" fill="#e4e4e4"/></pattern><linearGradient id="gGreen" x1="0" y1="0" x2="0" y2="1"><stop offset="0" stop-color="#6f6"/><stop offset="1" stop-color="#0b0"/></linearGradient><linearGradient id="gGold" x1="0.2" y1="0" x2="0.8" y2="1"><stop offset="0" stop-color="#fbe870"/><stop offset="0.6" stop-color="#e0b020"/><stop offset="1" stop-color="#b87a10"/></linearGradient><linearGradient id="gCloud" x1="0" y1="0" x2="0" y2="1"><stop offset="0" stop-color="#fcfdff"/><stop offset="1" stop-color="#c2cee2"/></linearGradient><radialGradient id="gRed" cx="0.4" cy="0.3" r="0.7"><stop offset="0" stop-color="#f06040"/><stop offset="1" stop-color="#d01808"/></radialGradient></defs><line x1="17.5" y1="1" x2="17.5" y2="21" stroke="#a0a0a0" shape-rendering="crispEdges"/><circle cx="1" cy="11" r="5" fill="#dbe9f7" stroke="#6a9ad0" stroke-width="1.2"/><line x1="4.5" y1="15" x2="9" y2="20" stroke="#c8a030" stroke-width="2.2"/><path d="M27.5 3.5 h8 l3 3 v10 h-11 z" fill="#fff" stroke="#777"/><rect x="29" y="5" width="3" height="1" fill="#888"/><rect x="29" y="8" width="6" height="1" fill="#999"/><rect x="29" y="11" width="6" height="1" fill="#999"/><path d="M35 9.5 h3 v3 h3.5 v3 h-3.5 v3.5 h-3 v-3.5 h-3.5 v-3 h3.5 z" fill="url(#gGreen)" stroke="#0a8a0a" stroke-width="0.8"/><text x="46" y="15" font-family='"Liberation Sans", "Noto Sans CJK SC", sans-serif' font-size="12" fill="#000" stroke="#000" stroke-width="0.3" textLength="36" lengthAdjust="spacingAndGlyphs">新订单</text><path d="M99.5 4.2 L109.3 11 L110.3 13.2 L102.3 19 L94.2 13.4 Q96.8 11.2 97.6 8.4 Z" fill="url(#gGold)" stroke="#9a5c0c" stroke-width="0.9"/><path d="M95 13.3 L102.4 18.3 L103 16.6 L96.3 12.1 Z" fill="#f4dc94"/><path d="M108.8 11.6 L109.7 13 L102.8 17.9 L103.1 16.6 Z" fill="#e6d6a4"/><path d="M124.5 4.5 L126 3.2 H134.5 L135.5 4.5 V12.5 H124.5 Z" fill="#1a92f2" stroke="#1070d8" stroke-width="0.7"/><path d="M124.6 4.6 L127.3 5.3 V12.4 H124.6 Z" fill="#0a78e0"/><line x1="125" y1="4" x2="127.4" y2="5.4" stroke="#e8f4ff" stroke-width="0.8"/><rect x="129" y="7.6" width="5" height="1.3" fill="#e0f0ff"/><path d="M124 18.7 C121.2 18.7 121.3 14.6 124.6 14.6 C125 12.6 127.6 12.2 128.6 13.2 C129.6 10.6 133.6 10.6 134.1 13.6 C137.6 13.2 138.6 18.7 135.6 18.7 Z" fill="url(#gCloud)" stroke="#3a5a98" stroke-width="0.9"/><path d="M158 11 L158 18.5 A7.5 7.5 0 0 0 165.5 11 Z" fill="#cfe8c8"/><circle cx="158" cy="11" r="7.5" fill="none" stroke="#7a9ee0" stroke-width="0.9"/><circle cx="158" cy="11" r="4.8" fill="none" stroke="#5a86d8" stroke-width="0.9"/><path d="M158 18.5 A7.5 7.5 0 0 0 162 4.6" fill="none" stroke="#3a9a4a" stroke-width="1.1"/><circle cx="157.8" cy="10.6" r="1.7" fill="#2050c8"/><line x1="158.5" y1="11" x2="158.5" y2="18.8" stroke="#18a018" stroke-width="1.3"/><path d="M177.8 10 L193 10 L185.5 19 Z" fill="#f6dc58" stroke="#c09010" stroke-width="0.7"/><path d="M177.3 8 C177 5.5 181 5.6 181.2 6 C181.5 2.6 187.5 2.4 188 5.6 C190 5 193.5 5.2 193 7 C192.5 9.6 178 10.5 177.3 8 Z" fill="#5cb2e2" stroke="#1a78a8" stroke-width="0.8"/><path d="M181.3 6.2 C183 7.3 186.5 7.2 188 5.8" fill="none" stroke="#2a88b8" stroke-width="0.6"/><circle cx="189.3" cy="15" r="4.1" fill="#e02010" stroke="#a81006" stroke-width="0.7"/><rect x="187.8" y="13.5" width="3.2" height="3" fill="#fff"/><text x="198" y="15" font-family='"Liberation Sans", "Noto Sans CJK SC", sans-serif' font-size="12" fill="#000" stroke="#000" stroke-width="0.3" textLength="47" lengthAdjust="spacingAndGlyphs">自动交易</text><line x1="253.5" y1="0" x2="253.5" y2="23" stroke="#a0a0a0" shape-rendering="crispEdges"/><line x1="254.5" y1="0" x2="254.5" y2="23" stroke="#fcfcfc" shape-rendering="crispEdges"/><rect x="257" y="1" width="3" height="1" fill="#a8a8a8"/><rect x="257" y="3" width="3" height="1" fill="#a8a8a8"/><rect x="257" y="5" width="3" height="1" fill="#a8a8a8"/><rect x="257" y="7" width="3" height="1" fill="#a8a8a8"/><rect x="257" y="9" width="3" height="1" fill="#a8a8a8"/><rect x="257" y="11" width="3" height="1" fill="#a8a8a8"/><rect x="257" y="13" width="3" height="1" fill="#a8a8a8"/><rect x="257" y="15" width="3" height="1" fill="#a8a8a8"/><rect x="257" y="17" width="3" height="1" fill="#a8a8a8"/><rect x="257" y="19" width="3" height="1" fill="#a8a8a8"/><g stroke="#555" stroke-width="1.2" fill="#555"><line x1="271.5" y1="5" x2="271.5" y2="19"/><line x1="269.0" y1="16.5" x2="282.5" y2="16.5"/></g><path d="M269.5 7 L271.5 4.5 L273.5 7 Z" fill="#555"/><path d="M281.5 14.5 L284.5 16.5 L281.5 18.5 Z" fill="#555"/><path d="M274.5 13.5 h3 M277.5 6 V15 M277.5 7.8 h3" fill="none" stroke="#080" stroke-width="1.3"/><line x1="291.5" y1="1" x2="291.5" y2="21" stroke="#a0a0a0" shape-rendering="crispEdges"/><rect x="292" y="1" width="24" height="20" fill="url(#chk)"/><g stroke="#555" stroke-width="1.2" fill="#555"><line x1="299.5" y1="5" x2="299.5" y2="19"/><line x1="297.0" y1="16.5" x2="310.5" y2="16.5"/></g><path d="M297.5 7 L299.5 4.5 L301.5 7 Z" fill="#555"/><path d="M309.5 14.5 L312.5 16.5 L309.5 18.5 Z" fill="#555"/><line x1="305.5" y1="3" x2="305.5" y2="15" stroke="#080" stroke-width="1.2"/><rect x="303.5" y="5.5" width="4" height="7" fill="url(#gGreen)" stroke="#080"/><g stroke="#555" stroke-width="1.2" fill="#555"><line x1="327.5" y1="5" x2="327.5" y2="19"/><line x1="325.0" y1="16.5" x2="338.5" y2="16.5"/></g><path d="M325.5 7 L327.5 4.5 L329.5 7 Z" fill="#555"/><path d="M337.5 14.5 L340.5 16.5 L337.5 18.5 Z" fill="#555"/><path d="M326 14 Q331 5 333.5 8 T338 12" fill="none" stroke="#3a3" stroke-width="1.3"/><line x1="348.5" y1="1" x2="348.5" y2="21" stroke="#a0a0a0" shape-rendering="crispEdges"/><line x1="367.5" y1="12" x2="372.0" y2="18" stroke="#c8a020" stroke-width="2.6"/><circle cx="363.5" cy="8" r="5.2" fill="#e6f0fb" stroke="#3a7ad8" stroke-width="1.3"/><line x1="360.7" y1="8" x2="366.3" y2="8" stroke="#3a7ad8" stroke-width="1.6"/><line x1="363.5" y1="5.2" x2="363.5" y2="10.8" stroke="#3a7ad8" stroke-width="1.6"/><line x1="395.5" y1="12" x2="400.0" y2="18" stroke="#c8a020" stroke-width="2.6"/><circle cx="391.5" cy="8" r="5.2" fill="#e6f0fb" stroke="#3a7ad8" stroke-width="1.3"/><line x1="388.7" y1="8" x2="394.3" y2="8" stroke="#3a7ad8" stroke-width="1.6"/><rect x="413" y="3" width="8" height="7" fill="#2fa83a"/><rect x="421" y="3" width="8" height="7" fill="#2a5ed8"/><rect x="413" y="10" width="8" height="7" fill="#2a5ed8"/><rect x="421" y="10" width="8" height="7" fill="#2fa83a"/><rect x="414.5" y="6" width="5" height="2" fill="#d8f0d8"/><rect x="422.5" y="6" width="5" height="2" fill="#d8e4f8"/><rect x="414.5" y="13" width="5" height="2" fill="#d8e4f8"/><rect x="422.5" y="13" width="5" height="2" fill="#d8f0d8"/><line x1="438.5" y1="1" x2="438.5" y2="21" stroke="#a0a0a0" shape-rendering="crispEdges"/><rect x="443" y="1" width="24" height="20" fill="url(#chk)"/><g stroke="#555" stroke-width="1.2" fill="#555"><line x1="451.5" y1="5" x2="451.5" y2="19"/><line x1="449.0" y1="16.5" x2="462.5" y2="16.5"/></g><path d="M449.5 7 L451.5 4.5 L453.5 7 Z" fill="#555"/><path d="M461.5 14.5 L464.5 16.5 L461.5 18.5 Z" fill="#555"/><path d="M456 7 L461 10.5 L456 14 Z" fill="#3c3" stroke="#080" stroke-width="0.8"/><line x1="469.5" y1="1" x2="469.5" y2="21" stroke="#a0a0a0" shape-rendering="crispEdges"/><rect x="471" y="1" width="25" height="20" fill="url(#chk)"/><g stroke="#555" stroke-width="1.2" fill="#555"><line x1="478.5" y1="5" x2="478.5" y2="19"/><line x1="476.0" y1="16.5" x2="489.5" y2="16.5"/></g><path d="M476.5 7 L478.5 4.5 L480.5 7 Z" fill="#555"/><path d="M488.5 14.5 L491.5 16.5 L488.5 18.5 Z" fill="#555"/><line x1="486.5" y1="4" x2="486.5" y2="15" stroke="#2060b0" stroke-width="1.2"/><path d="M493 10 h-5 M490 8 L488 10 L490 12" fill="none" stroke="#d02010" stroke-width="1.3"/><line x1="500.5" y1="1" x2="500.5" y2="21" stroke="#a0a0a0" shape-rendering="crispEdges"/><path d="M510.5 4.5 h7 l2 2 v9 h-9 z" fill="#fff" stroke="#888"/><path d="M512.5 3 h6" stroke="#aaa"/><path d="M518 10 h3 v3 h3.5 v3 h-3.5 v3.5 h-3 v-3.5 h-3.5 v-3 h3.5 z" fill="url(#gGreen)" stroke="#0a8a0a" stroke-width="0.8"/><path d="M532 10 h5 l-2.5 3 z" fill="#000"/><circle cx="556" cy="11" r="7.5" fill="#2a6ad8" stroke="#1040a0" stroke-width="0.8"/><circle cx="556" cy="11" r="5.6" fill="#f4f8ff"/><path d="M556 7.5 V11 H559" fill="none" stroke="#333" stroke-width="1"/><path d="M571 10 h5 l-2.5 3 z" fill="#000"/><rect x="587.5" y="4.5" width="15" height="13" fill="#f4f8ff" stroke="#3a6ac8"/><rect x="588" y="5" width="14" height="2.5" fill="#3a6ac8"/><path d="M589 11 l3 -1.5 l3 1 l3 -2 l3 1" fill="none" stroke="#c03030"/><path d="M589 15.5 l3 -2 l3 1.5 l3 -2 l3 1" fill="none" stroke="#20a020"/><path d="M610 10 h5 l-2.5 3 z" fill="#000"/><line x1="621.5" y1="0" x2="621.5" y2="23" stroke="#a0a0a0" shape-rendering="crispEdges"/><line x1="622.5" y1="0" x2="622.5" y2="23" stroke="#fcfcfc" shape-rendering="crispEdges"/><rect x="625" y="1" width="3" height="1" fill="#a8a8a8"/><rect x="625" y="3" width="3" height="1" fill="#a8a8a8"/><rect x="625" y="5" width="3" height="1" fill="#a8a8a8"/><rect x="625" y="7" width="3" height="1" fill="#a8a8a8"/><rect x="625" y="9" width="3" height="1" fill="#a8a8a8"/><rect x="625" y="11" width="3" height="1" fill="#a8a8a8"/><rect x="625" y="13" width="3" height="1" fill="#a8a8a8"/><rect x="625" y="15" width="3" height="1" fill="#a8a8a8"/><rect x="625" y="17" width="3" height="1" fill="#a8a8a8"/><rect x="625" y="19" width="3" height="1" fill="#a8a8a8"/><line x1="630.5" y1="1" x2="630.5" y2="21" stroke="#a0a0a0" shape-rendering="crispEdges"/><rect x="632" y="1" width="24" height="20" fill="url(#chk)"/><path d="M639 3.5 L639 16 L642 13 L644.5 18.5 L646 17.8 L643.6 12.3 L647.5 12.3 Z" fill="#444"/><g stroke="#444" stroke-width="1.2"><line x1="671.5" y1="4" x2="671.5" y2="10"/><line x1="671.5" y1="13" x2="671.5" y2="19"/><line x1="664" y1="11.5" x2="670" y2="11.5"/><line x1="673" y1="11.5" x2="679" y2="11.5"/></g><line x1="688.5" y1="1" x2="688.5" y2="21" stroke="#a0a0a0" shape-rendering="crispEdges"/><line x1="705.5" y1="5" x2="705.5" y2="17" stroke="#555" stroke-width="1.3"/><line x1="728" y1="11.5" x2="740" y2="11.5" stroke="#555" stroke-width="1.3"/><line x1="756" y1="18" x2="768" y2="6" stroke="#666" stroke-width="1.3"/><g stroke="#666" stroke-width="1.1"><line x1="782" y1="14" x2="794" y2="4"/><line x1="784" y1="18" x2="796" y2="8"/><line x1="786" y1="9" x2="786" y2="16"/><line x1="789" y1="7" x2="789" y2="14"/><line x1="792" y1="5" x2="792" y2="12"/></g><text x="793" y="20" font-family='"Liberation Sans", Arial, sans-serif' font-size="6.5" font-weight="bold" fill="#555">E</text><g stroke="#777" stroke-width="1" stroke-dasharray="1,1"><line x1="811" y1="4.5" x2="824" y2="4.5"/><line x1="811" y1="7.5" x2="824" y2="7.5"/><line x1="811" y1="10.5" x2="824" y2="10.5"/><line x1="811" y1="13.5" x2="824" y2="13.5"/><line x1="811" y1="16.5" x2="820" y2="16.5"/></g><text x="821" y="20" font-family='"Liberation Sans", Arial, sans-serif' font-size="6.5" font-weight="bold" fill="#555">F</text><text x="841" y="16" font-family='"Liberation Sans", Arial, sans-serif' font-size="11" font-weight="bold" fill="#666">A</text><rect x="868.5" y="4.5" width="11" height="12" fill="none" stroke="#777" stroke-dasharray="1,1"/><text x="870" y="15" font-family='"Liberation Sans", Arial, sans-serif' font-size="11" font-weight="bold" fill="#555">T</text><path d="M896 6 L899 3 L902 6 L899 9 Z" fill="#444"/><path d="M902 14 L905 11 L908 14 L905 17 Z" fill="#444"/><path d="M898 9 L901 13 L906 7" fill="none" stroke="#444" stroke-width="1.2"/><path d="M916 10 h5 l-2.5 3 z" fill="#000"/><line x1="927.5" y1="0" x2="927.5" y2="23" stroke="#a0a0a0" shape-rendering="crispEdges"/><line x1="928.5" y1="0" x2="928.5" y2="23" stroke="#fcfcfc" shape-rendering="crispEdges"/><rect x="931" y="1" width="3" height="1" fill="#a8a8a8"/><rect x="931" y="3" width="3" height="1" fill="#a8a8a8"/><rect x="931" y="5" width="3" height="1" fill="#a8a8a8"/><rect x="931" y="7" width="3" height="1" fill="#a8a8a8"/><rect x="931" y="9" width="3" height="1" fill="#a8a8a8"/><rect x="931" y="11" width="3" height="1" fill="#a8a8a8"/><rect x="931" y="13" width="3" height="1" fill="#a8a8a8"/><rect x="931" y="15" width="3" height="1" fill="#a8a8a8"/><rect x="931" y="17" width="3" height="1" fill="#a8a8a8"/><rect x="931" y="19" width="3" height="1" fill="#a8a8a8"/><line x1="1077.5" y1="1" x2="1077.5" y2="21" stroke="#a0a0a0" shape-rendering="crispEdges"/><rect x="1078" y="1" width="25" height="20" fill="url(#chk)"/><text x="942" y="15" font-family='"Liberation Sans", Arial, sans-serif' font-size="10" fill="#333" textLength="13" lengthAdjust="spacingAndGlyphs">M1</text><text x="970.5" y="15" font-family='"Liberation Sans", Arial, sans-serif' font-size="10" fill="#333" textLength="13" lengthAdjust="spacingAndGlyphs">M5</text><text x="996.5" y="15" font-family='"Liberation Sans", Arial, sans-serif' font-size="10" fill="#333" textLength="17.5" lengthAdjust="spacingAndGlyphs">M15</text><text x="1024.5" y="15" font-family='"Liberation Sans", Arial, sans-serif' font-size="10" fill="#333" textLength="17.5" lengthAdjust="spacingAndGlyphs">M30</text><text x="1055.5" y="15" font-family='"Liberation Sans", Arial, sans-serif' font-size="10" fill="#333" textLength="12" lengthAdjust="spacingAndGlyphs">H1</text><text x="1083" y="15" font-family='"Liberation Sans", Arial, sans-serif' font-size="10" fill="#333" textLength="12" lengthAdjust="spacingAndGlyphs">H4</text><text x="1112" y="15" font-family='"Liberation Sans", Arial, sans-serif' font-size="10" fill="#333" textLength="11.5" lengthAdjust="spacingAndGlyphs">D1</text><text x="1138.5" y="15" font-family='"Liberation Sans", Arial, sans-serif' font-size="10" fill="#333" textLength="14.5" lengthAdjust="spacingAndGlyphs">W1</text><text x="1166" y="15" font-family='"Liberation Sans", Arial, sans-serif' font-size="10" fill="#333" textLength="14.5" lengthAdjust="spacingAndGlyphs">MN</text><line x1="1186.5" y1="1" x2="1186.5" y2="21" stroke="#a0a0a0" shape-rendering="crispEdges"/><line x1="1651" y1="16" x2="1655.5" y2="11.5" stroke="#2a62d0" stroke-width="2.4" stroke-linecap="round"/><circle cx="1658.5" cy="8.5" r="4.2" fill="#eef2ff" stroke="#2a62d0" stroke-width="1.3"/><ellipse cx="1681" cy="13.5" rx="6" ry="4.8" fill="#e4e6f0" stroke="#a8a8b0" stroke-width="0.8"/><path d="M1678 17.5 L1677.5 20 L1681 18" fill="#d8d8e0" stroke="#999" stroke-width="0.6"/><circle cx="1689.5" cy="8.3" r="8.2" fill="url(#gRed)"/><text x="1686" y="13" font-family='"Liberation Sans", Arial, sans-serif' font-size="11.5" font-weight="bold" fill="#fff">1</text></svg>
<svg width="222" height="106" viewBox="0 0 222 106" style="position:absolute;left:0;top:0"><defs><linearGradient id="pb" gradientUnits="userSpaceOnUse" x1="0" y1="47" x2="0" y2="104"><stop offset="0" stop-color="#5757fb"/><stop offset="0.42" stop-color="#3333e2"/><stop offset="0.45" stop-color="#2b2bd6"/><stop offset="1" stop-color="#0303a6"/></linearGradient><linearGradient id="bt" x1="0" y1="0" x2="0" y2="1"><stop offset="0" stop-color="#f4f4f4"/><stop offset="0.45" stop-color="#e6e6e6"/><stop offset="0.5" stop-color="#d8d8d8"/><stop offset="1" stop-color="#d0d0d0"/></linearGradient></defs><rect x="0" y="45" width="222" height="61" fill="#fff"/><rect x="55.5" y="47.5" width="110" height="21" fill="#fff" stroke="#a8a8a8"/><rect x="56.5" y="48.5" width="19" height="19" fill="url(#bt)" stroke="#c4c4c4"/><rect x="144.5" y="48.5" width="20" height="19" fill="url(#bt)" stroke="#c4c4c4"/><line x1="76.5" y1="48" x2="76.5" y2="68" stroke="#c8c8c8"/><path d="M63 56 h5 l-2.5 2.5 z" fill="#5868a8"/><path d="M152.5 58.5 h5 l-2.5 -2.5 z" fill="#5868a8"/><text x="140.5" y="62" text-anchor="end" font-family='"Liberation Sans", Arial, sans-serif' font-size="12" fill="#000">1.00</text><path d="M1.5 47.5 H52.5 V71.5 H109.5 V103.5 H1.5 Z" fill="url(#pb)" stroke="#0a0a9a"/><line x1="5" y1="71.5" x2="49" y2="71.5" stroke="#8080ff"/><text x="13.5" y="63" font-family='"Liberation Sans", Arial, sans-serif' font-size="12.5" fill="#ececff" textLength="25.5" lengthAdjust="spacingAndGlyphs">SELL</text><text x="17" y="99" font-family='"Liberation Sans", Arial, sans-serif' font-size="12.5" font-weight="bold" fill="#fff" textLength="35" lengthAdjust="spacingAndGlyphs">26462</text><rect x="57" y="95.5" width="3.5" height="3.5" fill="#fff"/><text x="63.5" y="99" font-family='"Liberation Sans", Arial, sans-serif' font-size="33.5" fill="#fff" textLength="15.5" lengthAdjust="spacingAndGlyphs">5</text><path d="M112.5 71.5 H168.5 V47.5 H219.5 V103.5 H112.5 Z" fill="url(#pb)" stroke="#0a0a9a"/><line x1="172" y1="71.5" x2="216" y2="71.5" stroke="#7c7cff"/><text x="181.5" y="63" font-family='"Liberation Sans", Arial, sans-serif' font-size="12.5" fill="#ececff" textLength="23.5" lengthAdjust="spacingAndGlyphs">BUY</text><text x="127.5" y="99" font-family='"Liberation Sans", Arial, sans-serif' font-size="12.5" font-weight="bold" fill="#fff" textLength="34.5" lengthAdjust="spacingAndGlyphs">26475</text><rect x="167.5" y="95.5" width="3.5" height="3.5" fill="#fff"/><text x="174.5" y="99" font-family='"Liberation Sans", Arial, sans-serif' font-size="33.5" fill="#fff" textLength="15.5" lengthAdjust="spacingAndGlyphs">5</text></svg>
</body></html>
